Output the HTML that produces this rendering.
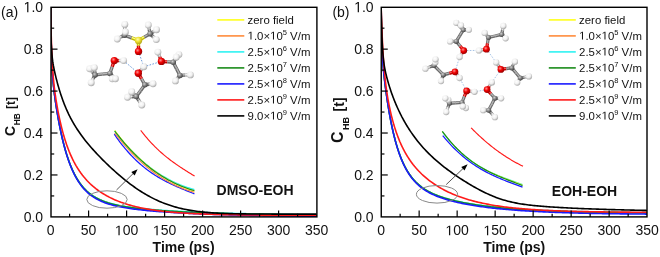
<!DOCTYPE html>
<html><head><meta charset="utf-8"><style>
html,body{margin:0;padding:0;background:#fff;}
body{width:660px;height:257px;overflow:hidden;}
svg{display:block;will-change:transform;}
text{font-family:"Liberation Sans",sans-serif;fill:#111;}
.tl{font-size:14px;}
.xl{font-size:14px;font-weight:bold;}
.yl{font-size:14px;font-weight:bold;}
.sub{font-size:9.5px;}
.lg{font-size:11.4px;}
.sup{font-size:7.5px;}
.tt{font-size:14px;font-weight:bold;}
.pl{font-size:14px;}
.o1{fill:transparent;}
</style></head><body>
<svg width="660" height="257" viewBox="0 0 660 257">
<defs>
<radialGradient id="gH" cx="0.4" cy="0.35" r="0.72"><stop offset="0" stop-color="#ffffff"/><stop offset="0.5" stop-color="#f0f0f0"/><stop offset="1" stop-color="#9a9a9a"/></radialGradient>
<radialGradient id="gC" cx="0.38" cy="0.35" r="0.7"><stop offset="0" stop-color="#d0d0d0"/><stop offset="0.5" stop-color="#808080"/><stop offset="1" stop-color="#3a3a3a"/></radialGradient>
<radialGradient id="gO" cx="0.38" cy="0.35" r="0.7"><stop offset="0" stop-color="#ff9090"/><stop offset="0.45" stop-color="#f00000"/><stop offset="1" stop-color="#900000"/></radialGradient>
<radialGradient id="gS" cx="0.4" cy="0.35" r="0.72"><stop offset="0" stop-color="#ffffb0"/><stop offset="0.45" stop-color="#eee030"/><stop offset="1" stop-color="#a89a10"/></radialGradient>
</defs>
<clipPath id="cpa"><rect x="51" y="7.3" width="265.9" height="209.6"/></clipPath>
<g clip-path="url(#cpa)">
<polyline points="50.6,7.2 50.68,12.94 50.76,18.22 50.83,23.1 50.91,27.59 50.99,31.75 51.07,35.59 51.15,39.14 51.22,42.44 51.3,45.5 51.38,48.34 51.46,50.99 51.54,53.46 51.61,55.76 51.69,57.91 51.77,59.93 51.85,61.82 51.93,63.6 52,65.28 52.08,66.86 52.16,68.35 52.24,69.77 52.31,71.11 52.39,72.39 52.47,73.61 52.55,74.77 52.63,75.88 52.7,76.94 52.78,77.96 52.86,78.95 52.94,79.89 53.02,80.81 53.09,81.69 53.17,82.55 53.25,83.38 53.33,84.19 53.41,84.97 53.48,85.74 53.56,86.48 53.64,87.21 53.99,90.28 54.33,93.13 54.68,95.8 55.03,98.35 55.37,100.79 55.72,103.15 56.06,105.43 56.41,107.65 56.76,109.81 57.1,111.92 57.45,113.98 57.8,115.98 58.14,117.94 58.49,119.86 58.83,121.73 59.18,123.56 59.53,125.35 59.87,127.09 60.22,128.8 60.57,130.47 60.91,132.1 61.26,133.7 61.61,135.25 61.95,136.78 62.3,138.27 62.64,139.73 62.99,141.15 63.34,142.54 63.68,143.9 64.03,145.23 64.38,146.54 64.72,147.81 65.07,149.05 65.42,150.27 65.76,151.46 66.11,152.62 66.45,153.76 66.8,154.87 67.15,155.96 67.49,157.03 67.84,158.07 68.19,159.08 68.53,160.08 68.88,161.05 69.22,162.01 69.57,162.94 69.92,163.85 70.26,164.74 70.61,165.61 70.96,166.46 71.3,167.3 71.65,168.12 72,168.91 72.34,169.7 72.69,170.46 73.03,171.21 73.38,171.94 73.73,172.66 74.07,173.36 74.42,174.04 74.77,174.72 75.11,175.37 75.46,176.02 75.81,176.65 76.15,177.26 76.5,177.86 76.84,178.45 77.19,179.03 77.54,179.6 77.88,180.15 78.23,180.69 78.58,181.22 78.92,181.74 79.27,182.25 79.61,182.75 79.96,183.24 80.31,183.72 80.65,184.18 81,184.64 82.48,186.5 83.96,188.2 85.45,189.76 86.93,191.19 88.41,192.5 89.89,193.71 91.37,194.82 92.85,195.84 94.34,196.79 95.82,197.66 97.3,198.47 98.78,199.22 100.26,199.91 101.74,200.56 103.23,201.16 104.71,201.72 106.19,202.24 107.67,202.73 109.15,203.18 110.64,203.61 112.12,204.01 113.6,204.39 115.08,204.75 116.56,205.09 118.04,205.41 119.53,205.71 121.01,205.99 122.49,206.26 123.97,206.52 125.45,206.77 126.93,207 128.42,207.23 129.9,207.44 131.38,207.65 132.86,207.85 134.34,208.04 135.83,208.22 137.31,208.4 138.79,208.57 140.27,208.73 141.75,208.89 143.23,209.04 144.72,209.19 146.2,209.33 147.68,209.47 149.16,209.61 150.64,209.74 152.12,209.87 153.61,209.99 155.09,210.11 156.57,210.23 158.05,210.34 159.53,210.45 161.02,210.56 162.5,210.67 163.98,210.77 165.46,210.87 166.94,210.97 168.42,211.06 169.91,211.16 171.39,211.25 172.87,211.34 174.35,211.42 175.83,211.51 177.31,211.59 178.8,211.67 180.28,211.75 181.76,211.83 183.24,211.91 184.72,211.98 186.21,212.06 187.69,212.13 189.17,212.2 190.65,212.27 192.13,212.33 193.61,212.4 195.1,212.46 196.58,212.53 198.06,212.59 199.54,212.65 201.02,212.71 202.5,212.77 203.99,212.82 205.47,212.88 206.95,212.93 208.43,212.99 209.91,213.04 211.39,213.09 212.88,213.14 214.36,213.19 215.84,213.24 217.32,213.29 218.8,213.33 220.29,213.38 221.77,213.42 223.25,213.47 224.73,213.51 226.21,213.55 227.69,213.59 229.18,213.63 230.66,213.67 232.14,213.71 233.62,213.75 235.1,213.79 236.58,213.82 238.07,213.86 239.55,213.9 241.03,213.93 242.51,213.96 243.99,214 245.48,214.03 246.96,214.06 248.44,214.09 249.92,214.12 251.4,214.15 252.88,214.18 254.37,214.21 255.85,214.24 257.33,214.27 258.81,214.29 260.29,214.32 261.77,214.35 263.26,214.37 264.74,214.4 266.22,214.42 267.7,214.45 269.18,214.47 270.67,214.49 272.15,214.51 273.63,214.54 275.11,214.56 276.59,214.58 278.07,214.6 279.56,214.62 281.04,214.64 282.52,214.66 284,214.68 285.48,214.7 286.96,214.72 288.45,214.74 289.93,214.75 291.41,214.77 292.89,214.79 294.37,214.81 295.86,214.82 297.34,214.84 298.82,214.85 300.3,214.87 301.78,214.88 303.26,214.9 304.75,214.91 306.23,214.93 307.71,214.94 309.19,214.96 310.67,214.97 312.15,214.98 313.64,215 315.12,215.01 316.6,215.02" fill="none" stroke="#ffff1a" stroke-width="1.4" stroke-linejoin="round"/>
<polyline points="50.6,7.2 50.68,12.94 50.76,18.22 50.83,23.1 50.91,27.59 50.99,31.75 51.07,35.59 51.15,39.14 51.22,42.44 51.3,45.5 51.38,48.34 51.46,50.99 51.54,53.46 51.61,55.76 51.69,57.91 51.77,59.93 51.85,61.82 51.93,63.6 52,65.28 52.08,66.86 52.16,68.35 52.24,69.77 52.31,71.11 52.39,72.39 52.47,73.61 52.55,74.77 52.63,75.88 52.7,76.94 52.78,77.96 52.86,78.95 52.94,79.89 53.02,80.81 53.09,81.69 53.17,82.55 53.25,83.38 53.33,84.19 53.41,84.97 53.48,85.74 53.56,86.48 53.64,87.21 53.99,90.28 54.33,93.13 54.68,95.8 55.03,98.35 55.37,100.79 55.72,103.15 56.06,105.43 56.41,107.65 56.76,109.81 57.1,111.92 57.45,113.98 57.8,115.98 58.14,117.94 58.49,119.86 58.83,121.73 59.18,123.56 59.53,125.35 59.87,127.09 60.22,128.8 60.57,130.47 60.91,132.1 61.26,133.7 61.61,135.25 61.95,136.78 62.3,138.27 62.64,139.73 62.99,141.15 63.34,142.54 63.68,143.9 64.03,145.23 64.38,146.54 64.72,147.81 65.07,149.05 65.42,150.27 65.76,151.46 66.11,152.62 66.45,153.76 66.8,154.87 67.15,155.96 67.49,157.03 67.84,158.07 68.19,159.08 68.53,160.08 68.88,161.05 69.22,162.01 69.57,162.94 69.92,163.85 70.26,164.74 70.61,165.61 70.96,166.46 71.3,167.3 71.65,168.12 72,168.91 72.34,169.7 72.69,170.46 73.03,171.21 73.38,171.94 73.73,172.66 74.07,173.36 74.42,174.04 74.77,174.72 75.11,175.37 75.46,176.02 75.81,176.65 76.15,177.26 76.5,177.86 76.84,178.45 77.19,179.03 77.54,179.6 77.88,180.15 78.23,180.69 78.58,181.22 78.92,181.74 79.27,182.25 79.61,182.75 79.96,183.24 80.31,183.72 80.65,184.18 81,184.64 82.48,186.5 83.96,188.2 85.45,189.76 86.93,191.19 88.41,192.5 89.89,193.71 91.37,194.82 92.85,195.84 94.34,196.79 95.82,197.66 97.3,198.47 98.78,199.22 100.26,199.91 101.74,200.56 103.23,201.16 104.71,201.72 106.19,202.24 107.67,202.73 109.15,203.18 110.64,203.61 112.12,204.01 113.6,204.39 115.08,204.75 116.56,205.09 118.04,205.41 119.53,205.71 121.01,205.99 122.49,206.26 123.97,206.52 125.45,206.77 126.93,207 128.42,207.23 129.9,207.44 131.38,207.65 132.86,207.85 134.34,208.04 135.83,208.22 137.31,208.4 138.79,208.57 140.27,208.73 141.75,208.89 143.23,209.04 144.72,209.19 146.2,209.33 147.68,209.47 149.16,209.61 150.64,209.74 152.12,209.87 153.61,209.99 155.09,210.11 156.57,210.23 158.05,210.34 159.53,210.45 161.02,210.56 162.5,210.67 163.98,210.77 165.46,210.87 166.94,210.97 168.42,211.06 169.91,211.16 171.39,211.25 172.87,211.34 174.35,211.42 175.83,211.51 177.31,211.59 178.8,211.67 180.28,211.75 181.76,211.83 183.24,211.91 184.72,211.98 186.21,212.06 187.69,212.13 189.17,212.2 190.65,212.27 192.13,212.33 193.61,212.4 195.1,212.46 196.58,212.53 198.06,212.59 199.54,212.65 201.02,212.71 202.5,212.77 203.99,212.82 205.47,212.88 206.95,212.93 208.43,212.99 209.91,213.04 211.39,213.09 212.88,213.14 214.36,213.19 215.84,213.24 217.32,213.29 218.8,213.33 220.29,213.38 221.77,213.42 223.25,213.47 224.73,213.51 226.21,213.55 227.69,213.59 229.18,213.63 230.66,213.67 232.14,213.71 233.62,213.75 235.1,213.79 236.58,213.82 238.07,213.86 239.55,213.9 241.03,213.93 242.51,213.96 243.99,214 245.48,214.03 246.96,214.06 248.44,214.09 249.92,214.12 251.4,214.15 252.88,214.18 254.37,214.21 255.85,214.24 257.33,214.27 258.81,214.29 260.29,214.32 261.77,214.35 263.26,214.37 264.74,214.4 266.22,214.42 267.7,214.45 269.18,214.47 270.67,214.49 272.15,214.51 273.63,214.54 275.11,214.56 276.59,214.58 278.07,214.6 279.56,214.62 281.04,214.64 282.52,214.66 284,214.68 285.48,214.7 286.96,214.72 288.45,214.74 289.93,214.75 291.41,214.77 292.89,214.79 294.37,214.81 295.86,214.82 297.34,214.84 298.82,214.85 300.3,214.87 301.78,214.88 303.26,214.9 304.75,214.91 306.23,214.93 307.71,214.94 309.19,214.96 310.67,214.97 312.15,214.98 313.64,215 315.12,215.01 316.6,215.02" fill="none" stroke="#ff8c3c" stroke-width="1.4" stroke-linejoin="round"/>
<polyline points="50.6,7.2 50.68,12.94 50.76,18.22 50.83,23.1 50.91,27.59 50.99,31.75 51.07,35.59 51.15,39.14 51.22,42.44 51.3,45.5 51.38,48.34 51.46,50.99 51.54,53.46 51.61,55.76 51.69,57.91 51.77,59.93 51.85,61.82 51.93,63.6 52,65.28 52.08,66.86 52.16,68.35 52.24,69.77 52.31,71.11 52.39,72.38 52.47,73.6 52.55,74.76 52.63,75.87 52.7,76.94 52.78,77.96 52.86,78.94 52.94,79.89 53.02,80.8 53.09,81.68 53.17,82.54 53.25,83.37 53.33,84.18 53.41,84.96 53.48,85.73 53.56,86.47 53.64,87.2 53.99,90.27 54.33,93.11 54.68,95.78 55.03,98.33 55.37,100.77 55.72,103.12 56.06,105.41 56.41,107.62 56.76,109.78 57.1,111.89 57.45,113.94 57.8,115.95 58.14,117.9 58.49,119.82 58.83,121.68 59.18,123.51 59.53,125.29 59.87,127.04 60.22,128.74 60.57,130.41 60.91,132.03 61.26,133.63 61.61,135.18 61.95,136.7 62.3,138.19 62.64,139.64 62.99,141.06 63.34,142.45 63.68,143.81 64.03,145.14 64.38,146.43 64.72,147.7 65.07,148.94 65.42,150.15 65.76,151.34 66.11,152.5 66.45,153.63 66.8,154.74 67.15,155.83 67.49,156.89 67.84,157.92 68.19,158.94 68.53,159.93 68.88,160.9 69.22,161.85 69.57,162.78 69.92,163.68 70.26,164.57 70.61,165.44 70.96,166.29 71.3,167.12 71.65,167.93 72,168.73 72.34,169.5 72.69,170.27 73.03,171.01 73.38,171.74 73.73,172.45 74.07,173.15 74.42,173.83 74.77,174.5 75.11,175.15 75.46,175.79 75.81,176.42 76.15,177.03 76.5,177.63 76.84,178.22 77.19,178.79 77.54,179.35 77.88,179.91 78.23,180.44 78.58,180.97 78.92,181.49 79.27,181.99 79.61,182.49 79.96,182.97 80.31,183.45 80.65,183.91 81,184.37 82.48,186.22 83.96,187.9 85.45,189.45 86.93,190.87 88.41,192.18 89.89,193.38 91.37,194.48 92.85,195.5 94.34,196.43 95.82,197.3 97.3,198.1 98.78,198.84 100.26,199.53 101.74,200.17 103.23,200.77 104.71,201.32 106.19,201.84 107.67,202.32 109.15,202.78 110.64,203.2 112.12,203.6 113.6,203.97 115.08,204.33 116.56,204.66 118.04,204.98 119.53,205.28 121.01,205.56 122.49,205.83 123.97,206.09 125.45,206.33 126.93,206.56 128.42,206.79 129.9,207 131.38,207.2 132.86,207.4 134.34,207.59 135.83,207.77 137.31,207.94 138.79,208.11 140.27,208.27 141.75,208.43 143.23,208.58 144.72,208.73 146.2,208.87 147.68,209.01 149.16,209.14 150.64,209.27 152.12,209.4 153.61,209.52 155.09,209.64 156.57,209.76 158.05,209.87 159.53,209.98 161.02,210.09 162.5,210.19 163.98,210.29 165.46,210.39 166.94,210.49 168.42,210.58 169.91,210.68 171.39,210.77 172.87,210.85 174.35,210.94 175.83,211.03 177.31,211.11 178.8,211.19 180.28,211.27 181.76,211.35 183.24,211.42 184.72,211.49 186.21,211.57 187.69,211.64 189.17,211.71 190.65,211.78 192.13,211.84 193.61,211.91 195.1,211.97 196.58,212.03 198.06,212.1 199.54,212.16 201.02,212.21 202.5,212.27 203.99,212.33 205.47,212.38 206.95,212.44 208.43,212.49 209.91,212.54 211.39,212.59 212.88,212.64 214.36,212.69 215.84,212.74 217.32,212.79 218.8,212.83 220.29,212.88 221.77,212.92 223.25,212.97 224.73,213.01 226.21,213.05 227.69,213.09 229.18,213.13 230.66,213.17 232.14,213.21 233.62,213.25 235.1,213.28 236.58,213.32 238.07,213.35 239.55,213.39 241.03,213.42 242.51,213.46 243.99,213.49 245.48,213.52 246.96,213.55 248.44,213.58 249.92,213.61 251.4,213.64 252.88,213.67 254.37,213.7 255.85,213.73 257.33,213.76 258.81,213.78 260.29,213.81 261.77,213.84 263.26,213.86 264.74,213.89 266.22,213.91 267.7,213.93 269.18,213.96 270.67,213.98 272.15,214 273.63,214.02 275.11,214.05 276.59,214.07 278.07,214.09 279.56,214.11 281.04,214.13 282.52,214.15 284,214.17 285.48,214.18 286.96,214.2 288.45,214.22 289.93,214.24 291.41,214.26 292.89,214.27 294.37,214.29 295.86,214.31 297.34,214.32 298.82,214.34 300.3,214.35 301.78,214.37 303.26,214.38 304.75,214.4 306.23,214.41 307.71,214.43 309.19,214.44 310.67,214.45 312.15,214.47 313.64,214.48 315.12,214.49 316.6,214.5" fill="none" stroke="#2ef2f2" stroke-width="1.3" stroke-linejoin="round"/>
<polyline points="50.6,7.2 50.68,12.94 50.76,18.22 50.83,23.1 50.91,27.59 50.99,31.75 51.07,35.59 51.15,39.14 51.22,42.44 51.3,45.5 51.38,48.34 51.46,50.99 51.54,53.46 51.61,55.76 51.69,57.91 51.77,59.93 51.85,61.82 51.93,63.6 52,65.28 52.08,66.86 52.16,68.35 52.24,69.77 52.31,71.11 52.39,72.39 52.47,73.61 52.55,74.77 52.63,75.88 52.7,76.94 52.78,77.96 52.86,78.95 52.94,79.89 53.02,80.81 53.09,81.69 53.17,82.55 53.25,83.38 53.33,84.19 53.41,84.97 53.48,85.74 53.56,86.48 53.64,87.21 53.99,90.28 54.33,93.13 54.68,95.8 55.03,98.35 55.37,100.79 55.72,103.15 56.06,105.43 56.41,107.65 56.76,109.81 57.1,111.92 57.45,113.98 57.8,115.98 58.14,117.94 58.49,119.86 58.83,121.73 59.18,123.56 59.53,125.35 59.87,127.09 60.22,128.8 60.57,130.47 60.91,132.1 61.26,133.7 61.61,135.25 61.95,136.78 62.3,138.27 62.64,139.73 62.99,141.15 63.34,142.54 63.68,143.9 64.03,145.23 64.38,146.54 64.72,147.81 65.07,149.05 65.42,150.27 65.76,151.46 66.11,152.62 66.45,153.76 66.8,154.87 67.15,155.96 67.49,157.03 67.84,158.07 68.19,159.08 68.53,160.08 68.88,161.05 69.22,162.01 69.57,162.94 69.92,163.85 70.26,164.74 70.61,165.61 70.96,166.46 71.3,167.3 71.65,168.12 72,168.91 72.34,169.7 72.69,170.46 73.03,171.21 73.38,171.94 73.73,172.66 74.07,173.36 74.42,174.04 74.77,174.72 75.11,175.37 75.46,176.02 75.81,176.65 76.15,177.26 76.5,177.86 76.84,178.45 77.19,179.03 77.54,179.6 77.88,180.15 78.23,180.69 78.58,181.22 78.92,181.74 79.27,182.25 79.61,182.75 79.96,183.24 80.31,183.72 80.65,184.18 81,184.64 82.48,186.5 83.96,188.2 85.45,189.76 86.93,191.19 88.41,192.5 89.89,193.71 91.37,194.82 92.85,195.84 94.34,196.79 95.82,197.66 97.3,198.47 98.78,199.22 100.26,199.91 101.74,200.56 103.23,201.16 104.71,201.72 106.19,202.24 107.67,202.73 109.15,203.18 110.64,203.61 112.12,204.01 113.6,204.39 115.08,204.75 116.56,205.09 118.04,205.41 119.53,205.71 121.01,205.99 122.49,206.26 123.97,206.52 125.45,206.77 126.93,207 128.42,207.23 129.9,207.44 131.38,207.65 132.86,207.85 134.34,208.04 135.83,208.22 137.31,208.4 138.79,208.57 140.27,208.73 141.75,208.89 143.23,209.04 144.72,209.19 146.2,209.33 147.68,209.47 149.16,209.61 150.64,209.74 152.12,209.87 153.61,209.99 155.09,210.11 156.57,210.23 158.05,210.34 159.53,210.45 161.02,210.56 162.5,210.67 163.98,210.77 165.46,210.87 166.94,210.97 168.42,211.06 169.91,211.16 171.39,211.25 172.87,211.34 174.35,211.42 175.83,211.51 177.31,211.59 178.8,211.67 180.28,211.75 181.76,211.83 183.24,211.91 184.72,211.98 186.21,212.06 187.69,212.13 189.17,212.2 190.65,212.27 192.13,212.33 193.61,212.4 195.1,212.46 196.58,212.53 198.06,212.59 199.54,212.65 201.02,212.71 202.5,212.77 203.99,212.82 205.47,212.88 206.95,212.93 208.43,212.99 209.91,213.04 211.39,213.09 212.88,213.14 214.36,213.19 215.84,213.24 217.32,213.29 218.8,213.33 220.29,213.38 221.77,213.42 223.25,213.47 224.73,213.51 226.21,213.55 227.69,213.59 229.18,213.63 230.66,213.67 232.14,213.71 233.62,213.75 235.1,213.79 236.58,213.82 238.07,213.86 239.55,213.9 241.03,213.93 242.51,213.96 243.99,214 245.48,214.03 246.96,214.06 248.44,214.09 249.92,214.12 251.4,214.15 252.88,214.18 254.37,214.21 255.85,214.24 257.33,214.27 258.81,214.29 260.29,214.32 261.77,214.35 263.26,214.37 264.74,214.4 266.22,214.42 267.7,214.45 269.18,214.47 270.67,214.49 272.15,214.51 273.63,214.54 275.11,214.56 276.59,214.58 278.07,214.6 279.56,214.62 281.04,214.64 282.52,214.66 284,214.68 285.48,214.7 286.96,214.72 288.45,214.74 289.93,214.75 291.41,214.77 292.89,214.79 294.37,214.81 295.86,214.82 297.34,214.84 298.82,214.85 300.3,214.87 301.78,214.88 303.26,214.9 304.75,214.91 306.23,214.93 307.71,214.94 309.19,214.96 310.67,214.97 312.15,214.98 313.64,215 315.12,215.01 316.6,215.02" fill="none" stroke="#1a8c1a" stroke-width="1.5" stroke-linejoin="round"/>
<polyline points="50.6,7.2 50.68,12.94 50.76,18.22 50.83,23.1 50.91,27.59 50.99,31.75 51.07,35.59 51.15,39.15 51.22,42.44 51.3,45.5 51.38,48.35 51.46,50.99 51.54,53.46 51.61,55.76 51.69,57.92 51.77,59.94 51.85,61.83 51.93,63.61 52,65.29 52.08,66.87 52.16,68.36 52.24,69.78 52.31,71.12 52.39,72.4 52.47,73.62 52.55,74.78 52.63,75.89 52.7,76.96 52.78,77.98 52.86,78.96 52.94,79.91 53.02,80.83 53.09,81.71 53.17,82.57 53.25,83.4 53.33,84.21 53.41,85 53.48,85.76 53.56,86.51 53.64,87.24 53.99,90.31 54.33,93.16 54.68,95.84 55.03,98.39 55.37,100.84 55.72,103.2 56.06,105.49 56.41,107.72 56.76,109.89 57.1,112 57.45,114.06 57.8,116.08 58.14,118.04 58.49,119.96 58.83,121.84 59.18,123.68 59.53,125.47 59.87,127.23 60.22,128.94 60.57,130.62 60.91,132.26 61.26,133.86 61.61,135.43 61.95,136.96 62.3,138.46 62.64,139.93 62.99,141.36 63.34,142.76 63.68,144.13 64.03,145.47 64.38,146.78 64.72,148.06 65.07,149.32 65.42,150.54 65.76,151.74 66.11,152.92 66.45,154.06 66.8,155.18 67.15,156.28 67.49,157.36 67.84,158.41 68.19,159.43 68.53,160.44 68.88,161.42 69.22,162.38 69.57,163.32 69.92,164.24 70.26,165.14 70.61,166.03 70.96,166.89 71.3,167.73 71.65,168.56 72,169.36 72.34,170.15 72.69,170.93 73.03,171.69 73.38,172.43 73.73,173.15 74.07,173.86 74.42,174.55 74.77,175.23 75.11,175.9 75.46,176.55 75.81,177.19 76.15,177.81 76.5,178.42 76.84,179.02 77.19,179.61 77.54,180.18 77.88,180.74 78.23,181.29 78.58,181.83 78.92,182.36 79.27,182.87 79.61,183.38 79.96,183.87 80.31,184.36 80.65,184.83 81,185.3 82.48,187.18 83.96,188.91 85.45,190.49 86.93,191.95 88.41,193.28 89.89,194.51 91.37,195.64 92.85,196.68 94.34,197.65 95.82,198.53 97.3,199.36 98.78,200.12 100.26,200.83 101.74,201.48 103.23,202.1 104.71,202.67 106.19,203.2 107.67,203.7 109.15,204.16 110.64,204.6 112.12,205.01 113.6,205.4 115.08,205.76 116.56,206.11 118.04,206.43 119.53,206.74 121.01,207.03 122.49,207.31 123.97,207.57 125.45,207.82 126.93,208.06 128.42,208.29 129.9,208.51 131.38,208.72 132.86,208.93 134.34,209.12 135.83,209.31 137.31,209.49 138.79,209.66 140.27,209.83 141.75,209.99 143.23,210.15 144.72,210.3 146.2,210.44 147.68,210.59 149.16,210.72 150.64,210.86 152.12,210.99 153.61,211.11 155.09,211.24 156.57,211.36 158.05,211.47 159.53,211.59 161.02,211.7 162.5,211.81 163.98,211.91 165.46,212.01 166.94,212.11 168.42,212.21 169.91,212.31 171.39,212.4 172.87,212.49 174.35,212.58 175.83,212.67 177.31,212.75 178.8,212.84 180.28,212.92 181.76,213 183.24,213.08 184.72,213.15 186.21,213.23 187.69,213.3 189.17,213.37 190.65,213.44 192.13,213.51 193.61,213.58 195.1,213.65 196.58,213.71 198.06,213.77 199.54,213.84 201.02,213.9 202.5,213.96 203.99,214.01 205.47,214.07 206.95,214.13 208.43,214.18 209.91,214.24 211.39,214.29 212.88,214.34 214.36,214.39 215.84,214.44 217.32,214.49 218.8,214.54 220.29,214.58 221.77,214.63 223.25,214.67 224.73,214.72 226.21,214.76 227.69,214.8 229.18,214.84 230.66,214.88 232.14,214.92 233.62,214.96 235.1,215 236.58,215.04 238.07,215.08 239.55,215.11 241.03,215.15 242.51,215.18 243.99,215.22 245.48,215.25 246.96,215.28 248.44,215.31 249.92,215.34 251.4,215.37 252.88,215.4 254.37,215.43 255.85,215.46 257.33,215.49 258.81,215.52 260.29,215.55 261.77,215.57 263.26,215.6 264.74,215.62 266.22,215.65 267.7,215.67 269.18,215.7 270.67,215.72 272.15,215.75 273.63,215.77 275.11,215.79 276.59,215.81 278.07,215.83 279.56,215.85 281.04,215.88 282.52,215.9 284,215.92 285.48,215.93 286.96,215.95 288.45,215.97 289.93,215.99 291.41,216.01 292.89,216.03 294.37,216.04 295.86,216.06 297.34,216.08 298.82,216.09 300.3,216.11 301.78,216.12 303.26,216.14 304.75,216.15 306.23,216.17 307.71,216.18 309.19,216.2 310.67,216.21 312.15,216.23 313.64,216.24 315.12,216.25 316.6,216.26" fill="none" stroke="#1a1aff" stroke-width="1.6" stroke-linejoin="round"/>
<polyline points="50.6,7.2 50.68,11.49 50.76,15.53 50.83,19.34 50.91,22.94 50.99,26.33 51.07,29.54 51.15,32.57 51.22,35.43 51.3,38.14 51.38,40.72 51.46,43.15 51.54,45.47 51.61,47.66 51.69,49.75 51.77,51.74 51.85,53.63 51.93,55.43 52,57.15 52.08,58.8 52.16,60.37 52.24,61.87 52.31,63.31 52.39,64.69 52.47,66.01 52.55,67.29 52.63,68.51 52.7,69.69 52.78,70.83 52.86,71.92 52.94,72.98 53.02,74 53.09,74.99 53.17,75.95 53.25,76.88 53.33,77.79 53.41,78.66 53.48,79.52 53.56,80.35 53.64,81.15 53.99,84.52 54.33,87.57 54.68,90.39 55.03,93.01 55.37,95.48 55.72,97.82 56.06,100.05 56.41,102.19 56.76,104.25 57.1,106.24 57.45,108.17 57.8,110.03 58.14,111.85 58.49,113.61 58.83,115.33 59.18,116.99 59.53,118.62 59.87,120.21 60.22,121.75 60.57,123.26 60.91,124.73 61.26,126.16 61.61,127.57 61.95,128.93 62.3,130.27 62.64,131.58 62.99,132.85 63.34,134.1 63.68,135.31 64.03,136.5 64.38,137.67 64.72,138.81 65.07,139.92 65.42,141.01 65.76,142.07 66.11,143.12 66.45,144.14 66.8,145.14 67.15,146.11 67.49,147.07 67.84,148.01 68.19,148.93 68.53,149.83 68.88,150.71 69.22,151.58 69.57,152.42 69.92,153.26 70.26,154.07 70.61,154.87 70.96,155.65 71.3,156.42 71.65,157.18 72,157.92 72.34,158.65 72.69,159.36 73.03,160.06 73.38,160.75 73.73,161.42 74.07,162.09 74.42,162.74 74.77,163.38 75.11,164.01 75.46,164.63 75.81,165.24 76.15,165.84 76.5,166.42 76.84,167 77.19,167.57 77.54,168.13 77.88,168.68 78.23,169.22 78.58,169.76 78.92,170.28 79.27,170.8 79.61,171.31 79.96,171.81 80.31,172.3 80.65,172.79 81,173.26 82.48,175.23 83.96,177.08 85.45,178.82 86.93,180.46 88.41,182.01 89.89,183.48 91.37,184.86 92.85,186.18 94.34,187.43 95.82,188.62 97.3,189.75 98.78,190.83 100.26,191.85 101.74,192.83 103.23,193.77 104.71,194.66 106.19,195.51 107.67,196.33 109.15,197.1 110.64,197.85 112.12,198.56 113.6,199.25 115.08,199.9 116.56,200.53 118.04,201.13 119.53,201.7 121.01,202.26 122.49,202.78 123.97,203.29 125.45,203.78 126.93,204.24 128.42,204.69 129.9,205.12 131.38,205.53 132.86,205.93 134.34,206.31 135.83,206.67 137.31,207.02 138.79,207.35 140.27,207.67 141.75,207.98 143.23,208.28 144.72,208.56 146.2,208.83 147.68,209.09 149.16,209.35 150.64,209.59 152.12,209.82 153.61,210.04 155.09,210.25 156.57,210.46 158.05,210.65 159.53,210.84 161.02,211.02 162.5,211.2 163.98,211.36 165.46,211.52 166.94,211.68 168.42,211.82 169.91,211.96 171.39,212.1 172.87,212.23 174.35,212.36 175.83,212.48 177.31,212.59 178.8,212.7 180.28,212.81 181.76,212.91 183.24,213.01 184.72,213.1 186.21,213.19 187.69,213.28 189.17,213.36 190.65,213.44 192.13,213.52 193.61,213.59 195.1,213.66 196.58,213.73 198.06,213.8 199.54,213.86 201.02,213.92 202.5,213.98 203.99,214.03 205.47,214.08 206.95,214.14 208.43,214.18 209.91,214.23 211.39,214.28 212.88,214.32 214.36,214.36 215.84,214.4 217.32,214.44 218.8,214.48 220.29,214.51 221.77,214.55 223.25,214.58 224.73,214.61 226.21,214.64 227.69,214.67 229.18,214.7 230.66,214.72 232.14,214.75 233.62,214.77 235.1,214.8 236.58,214.82 238.07,214.84 239.55,214.86 241.03,214.88 242.51,214.9 243.99,214.92 245.48,214.94 246.96,214.95 248.44,214.97 249.92,214.98 251.4,215 252.88,215.01 254.37,215.03 255.85,215.04 257.33,215.05 258.81,215.07 260.29,215.08 261.77,215.09 263.26,215.1 264.74,215.11 266.22,215.12 267.7,215.13 269.18,215.14 270.67,215.15 272.15,215.16 273.63,215.16 275.11,215.17 276.59,215.18 278.07,215.19 279.56,215.19 281.04,215.2 282.52,215.21 284,215.21 285.48,215.22 286.96,215.22 288.45,215.23 289.93,215.23 291.41,215.24 292.89,215.24 294.37,215.25 295.86,215.25 297.34,215.26 298.82,215.26 300.3,215.26 301.78,215.27 303.26,215.27 304.75,215.28 306.23,215.28 307.71,215.28 309.19,215.28 310.67,215.29 312.15,215.29 313.64,215.29 315.12,215.3 316.6,215.3" fill="none" stroke="#ff1a1a" stroke-width="1.6" stroke-linejoin="round"/>
<polyline points="50.6,7.2 50.68,23.41 50.76,29.98 50.83,33.58 50.91,36.17 50.99,38.34 51.07,40.28 51.15,42.06 51.22,43.7 51.3,45.21 51.38,46.63 51.46,47.94 51.54,49.17 51.61,50.31 51.69,51.39 51.77,52.4 51.85,53.35 51.93,54.24 52,55.09 52.08,55.89 52.16,56.66 52.24,57.38 52.31,58.08 52.39,58.74 52.47,59.37 52.55,59.98 52.63,60.57 52.7,61.14 52.78,61.69 52.86,62.22 52.94,62.73 53.02,63.23 53.09,63.72 53.17,64.19 53.25,64.65 53.33,65.1 53.41,65.55 53.48,65.98 53.56,66.41 53.64,66.83 53.99,68.61 54.33,70.29 54.68,71.9 55.03,73.45 55.37,74.95 55.72,76.4 56.06,77.82 56.41,79.21 56.76,80.56 57.1,81.88 57.45,83.18 57.8,84.44 58.14,85.68 58.49,86.9 58.83,88.09 59.18,89.26 59.53,90.4 59.87,91.52 60.22,92.62 60.57,93.7 60.91,94.76 61.26,95.8 61.61,96.82 61.95,97.82 62.3,98.8 62.64,99.76 62.99,100.71 63.34,101.64 63.68,102.55 64.03,103.45 64.38,104.33 64.72,105.2 65.07,106.05 65.42,106.89 65.76,107.72 66.11,108.53 66.45,109.33 66.8,110.11 67.15,110.89 67.49,111.65 67.84,112.4 68.19,113.14 68.53,113.87 68.88,114.58 69.22,115.29 69.57,115.99 69.92,116.67 70.26,117.35 70.61,118.02 70.96,118.68 71.3,119.33 71.65,119.97 72,120.6 72.34,121.23 72.69,121.84 73.03,122.45 73.38,123.06 73.73,123.65 74.07,124.24 74.42,124.82 74.77,125.39 75.11,125.96 75.46,126.52 75.81,127.08 76.15,127.63 76.5,128.17 76.84,128.71 77.19,129.24 77.54,129.77 77.88,130.29 78.23,130.81 78.58,131.32 78.92,131.83 79.27,132.33 79.61,132.83 79.96,133.32 80.31,133.81 80.65,134.29 81,134.78 82.48,136.79 83.96,138.74 85.45,140.63 86.93,142.46 88.41,144.25 89.89,146 91.37,147.71 92.85,149.38 94.34,151.02 95.82,152.64 97.3,154.22 98.78,155.78 100.26,157.31 101.74,158.82 103.23,160.31 104.71,161.78 106.19,163.23 107.67,164.66 109.15,166.07 110.64,167.46 112.12,168.84 113.6,170.19 115.08,171.52 116.56,172.84 118.04,174.13 119.53,175.41 121.01,176.67 122.49,177.9 123.97,179.12 125.45,180.31 126.93,181.48 128.42,182.64 129.9,183.77 131.38,184.87 132.86,185.96 134.34,187.02 135.83,188.06 137.31,189.07 138.79,190.06 140.27,191.03 141.75,191.97 143.23,192.89 144.72,193.79 146.2,194.66 147.68,195.5 149.16,196.32 150.64,197.12 152.12,197.89 153.61,198.64 155.09,199.37 156.57,200.07 158.05,200.74 159.53,201.4 161.02,202.03 162.5,202.63 163.98,203.22 165.46,203.78 166.94,204.32 168.42,204.84 169.91,205.34 171.39,205.81 172.87,206.27 174.35,206.71 175.83,207.13 177.31,207.53 178.8,207.91 180.28,208.27 181.76,208.62 183.24,208.95 184.72,209.26 186.21,209.56 187.69,209.84 189.17,210.11 190.65,210.36 192.13,210.6 193.61,210.83 195.1,211.05 196.58,211.25 198.06,211.44 199.54,211.62 201.02,211.79 202.5,211.95 203.99,212.1 205.47,212.25 206.95,212.38 208.43,212.5 209.91,212.62 211.39,212.73 212.88,212.83 214.36,212.93 215.84,213.02 217.32,213.1 218.8,213.18 220.29,213.25 221.77,213.32 223.25,213.38 224.73,213.44 226.21,213.49 227.69,213.54 229.18,213.59 230.66,213.63 232.14,213.67 233.62,213.71 235.1,213.74 236.58,213.77 238.07,213.8 239.55,213.83 241.03,213.85 242.51,213.87 243.99,213.89 245.48,213.91 246.96,213.93 248.44,213.95 249.92,213.96 251.4,213.98 252.88,213.99 254.37,214 255.85,214.01 257.33,214.02 258.81,214.03 260.29,214.04 261.77,214.04 263.26,214.05 264.74,214.05 266.22,214.06 267.7,214.06 269.18,214.07 270.67,214.07 272.15,214.08 273.63,214.08 275.11,214.08 276.59,214.09 278.07,214.09 279.56,214.09 281.04,214.09 282.52,214.09 284,214.1 285.48,214.1 286.96,214.1 288.45,214.1 289.93,214.1 291.41,214.1 292.89,214.1 294.37,214.1 295.86,214.11 297.34,214.11 298.82,214.11 300.3,214.11 301.78,214.11 303.26,214.11 304.75,214.11 306.23,214.11 307.71,214.11 309.19,214.11 310.67,214.11 312.15,214.11 313.64,214.11 315.12,214.11 316.6,214.11" fill="none" stroke="#000" stroke-width="1.6" stroke-linejoin="round"/>
</g>
<clipPath id="cpb"><rect x="381.25" y="7.3" width="265.75" height="209.6"/></clipPath>
<g clip-path="url(#cpb)">
<polyline points="381.15,7.2 381.23,12.65 381.31,17.58 381.38,22.04 381.46,26.1 381.54,29.79 381.62,33.15 381.7,36.22 381.77,39.03 381.85,41.61 381.93,43.99 382.01,46.19 382.09,48.22 382.16,50.1 382.24,51.86 382.32,53.5 382.4,55.04 382.48,56.48 382.55,57.84 382.63,59.13 382.71,60.35 382.79,61.52 382.86,62.63 382.94,63.69 383.02,64.71 383.1,65.69 383.18,66.64 383.25,67.55 383.33,68.44 383.41,69.3 383.49,70.14 383.57,70.96 383.64,71.76 383.72,72.54 383.8,73.31 383.88,74.06 383.96,74.8 384.03,75.52 384.11,76.24 384.19,76.94 384.54,79.96 384.88,82.84 385.23,85.6 385.58,88.28 385.92,90.87 386.27,93.38 386.61,95.83 386.96,98.21 387.31,100.53 387.65,102.8 388,105 388.35,107.15 388.69,109.24 389.04,111.28 389.38,113.27 389.73,115.21 390.08,117.1 390.42,118.94 390.77,120.74 391.12,122.49 391.46,124.2 391.81,125.87 392.16,127.49 392.5,129.08 392.85,130.63 393.19,132.14 393.54,133.61 393.89,135.04 394.23,136.44 394.58,137.81 394.93,139.15 395.27,140.45 395.62,141.72 395.97,142.96 396.31,144.17 396.66,145.35 397,146.5 397.35,147.62 397.7,148.72 398.04,149.8 398.39,150.84 398.74,151.87 399.08,152.86 399.43,153.84 399.77,154.79 400.12,155.72 400.47,156.63 400.81,157.52 401.16,158.39 401.51,159.23 401.85,160.06 402.2,160.87 402.55,161.66 402.89,162.44 403.24,163.19 403.58,163.93 403.93,164.65 404.28,165.36 404.62,166.05 404.97,166.73 405.32,167.39 405.66,168.03 406.01,168.67 406.36,169.28 406.7,169.89 407.05,170.48 407.39,171.06 407.74,171.63 408.09,172.18 408.43,172.73 408.78,173.26 409.13,173.78 409.47,174.29 409.82,174.79 410.16,175.28 410.51,175.76 410.86,176.23 411.2,176.69 411.55,177.14 413.03,178.96 414.51,180.64 416,182.19 417.48,183.62 418.96,184.93 420.44,186.16 421.92,187.29 423.4,188.35 424.89,189.33 426.37,190.25 427.85,191.11 429.33,191.92 430.81,192.68 432.29,193.4 433.78,194.08 435.26,194.72 436.74,195.32 438.22,195.9 439.7,196.45 441.19,196.97 442.67,197.47 444.15,197.95 445.63,198.4 447.11,198.84 448.59,199.26 450.08,199.66 451.56,200.05 453.04,200.42 454.52,200.78 456,201.13 457.48,201.46 458.97,201.79 460.45,202.1 461.93,202.4 463.41,202.7 464.89,202.98 466.38,203.25 467.86,203.52 469.34,203.78 470.82,204.03 472.3,204.27 473.78,204.51 475.27,204.74 476.75,204.96 478.23,205.18 479.71,205.39 481.19,205.59 482.67,205.79 484.16,205.99 485.64,206.18 487.12,206.36 488.6,206.54 490.08,206.71 491.57,206.88 493.05,207.05 494.53,207.21 496.01,207.36 497.49,207.52 498.97,207.66 500.46,207.81 501.94,207.95 503.42,208.09 504.9,208.22 506.38,208.35 507.86,208.48 509.35,208.6 510.83,208.72 512.31,208.84 513.79,208.95 515.27,209.06 516.76,209.17 518.24,209.28 519.72,209.38 521.2,209.48 522.68,209.58 524.16,209.67 525.65,209.76 527.13,209.86 528.61,209.94 530.09,210.03 531.57,210.11 533.05,210.19 534.54,210.27 536.02,210.35 537.5,210.43 538.98,210.5 540.46,210.57 541.94,210.64 543.43,210.71 544.91,210.78 546.39,210.84 547.87,210.91 549.35,210.97 550.84,211.03 552.32,211.09 553.8,211.14 555.28,211.2 556.76,211.25 558.24,211.3 559.73,211.36 561.21,211.41 562.69,211.46 564.17,211.5 565.65,211.55 567.13,211.59 568.62,211.64 570.1,211.68 571.58,211.72 573.06,211.76 574.54,211.8 576.03,211.84 577.51,211.88 578.99,211.92 580.47,211.95 581.95,211.99 583.43,212.02 584.92,212.06 586.4,212.09 587.88,212.12 589.36,212.15 590.84,212.18 592.32,212.21 593.81,212.24 595.29,212.27 596.77,212.29 598.25,212.32 599.73,212.35 601.22,212.37 602.7,212.4 604.18,212.42 605.66,212.44 607.14,212.47 608.62,212.49 610.11,212.51 611.59,212.53 613.07,212.55 614.55,212.57 616.03,212.59 617.51,212.61 619,212.63 620.48,212.65 621.96,212.66 623.44,212.68 624.92,212.7 626.41,212.71 627.89,212.73 629.37,212.75 630.85,212.76 632.33,212.77 633.81,212.79 635.3,212.8 636.78,212.82 638.26,212.83 639.74,212.84 641.22,212.86 642.7,212.87 644.19,212.88 645.67,212.89 647.15,212.9" fill="none" stroke="#ffff1a" stroke-width="1.4" stroke-linejoin="round"/>
<polyline points="381.15,7.2 381.23,12.65 381.31,17.58 381.38,22.04 381.46,26.1 381.54,29.79 381.62,33.15 381.7,36.22 381.77,39.03 381.85,41.61 381.93,43.99 382.01,46.19 382.09,48.22 382.16,50.1 382.24,51.86 382.32,53.5 382.4,55.04 382.48,56.48 382.55,57.84 382.63,59.13 382.71,60.35 382.79,61.52 382.86,62.63 382.94,63.69 383.02,64.71 383.1,65.69 383.18,66.64 383.25,67.55 383.33,68.44 383.41,69.3 383.49,70.14 383.57,70.96 383.64,71.76 383.72,72.54 383.8,73.31 383.88,74.06 383.96,74.8 384.03,75.52 384.11,76.24 384.19,76.94 384.54,79.96 384.88,82.84 385.23,85.6 385.58,88.28 385.92,90.87 386.27,93.38 386.61,95.83 386.96,98.21 387.31,100.53 387.65,102.8 388,105 388.35,107.15 388.69,109.24 389.04,111.28 389.38,113.27 389.73,115.21 390.08,117.1 390.42,118.94 390.77,120.74 391.12,122.49 391.46,124.2 391.81,125.87 392.16,127.49 392.5,129.08 392.85,130.63 393.19,132.14 393.54,133.61 393.89,135.04 394.23,136.44 394.58,137.81 394.93,139.15 395.27,140.45 395.62,141.72 395.97,142.96 396.31,144.17 396.66,145.35 397,146.5 397.35,147.62 397.7,148.72 398.04,149.8 398.39,150.84 398.74,151.87 399.08,152.86 399.43,153.84 399.77,154.79 400.12,155.72 400.47,156.63 400.81,157.52 401.16,158.39 401.51,159.23 401.85,160.06 402.2,160.87 402.55,161.66 402.89,162.44 403.24,163.19 403.58,163.93 403.93,164.65 404.28,165.36 404.62,166.05 404.97,166.73 405.32,167.39 405.66,168.03 406.01,168.67 406.36,169.28 406.7,169.89 407.05,170.48 407.39,171.06 407.74,171.63 408.09,172.18 408.43,172.73 408.78,173.26 409.13,173.78 409.47,174.29 409.82,174.79 410.16,175.28 410.51,175.76 410.86,176.23 411.2,176.69 411.55,177.14 413.03,178.96 414.51,180.64 416,182.19 417.48,183.62 418.96,184.93 420.44,186.16 421.92,187.29 423.4,188.35 424.89,189.33 426.37,190.25 427.85,191.11 429.33,191.92 430.81,192.68 432.29,193.4 433.78,194.08 435.26,194.72 436.74,195.32 438.22,195.9 439.7,196.45 441.19,196.97 442.67,197.47 444.15,197.95 445.63,198.4 447.11,198.84 448.59,199.26 450.08,199.66 451.56,200.05 453.04,200.42 454.52,200.78 456,201.13 457.48,201.46 458.97,201.79 460.45,202.1 461.93,202.4 463.41,202.7 464.89,202.98 466.38,203.25 467.86,203.52 469.34,203.78 470.82,204.03 472.3,204.27 473.78,204.51 475.27,204.74 476.75,204.96 478.23,205.18 479.71,205.39 481.19,205.59 482.67,205.79 484.16,205.99 485.64,206.18 487.12,206.36 488.6,206.54 490.08,206.71 491.57,206.88 493.05,207.05 494.53,207.21 496.01,207.36 497.49,207.52 498.97,207.66 500.46,207.81 501.94,207.95 503.42,208.09 504.9,208.22 506.38,208.35 507.86,208.48 509.35,208.6 510.83,208.72 512.31,208.84 513.79,208.95 515.27,209.06 516.76,209.17 518.24,209.28 519.72,209.38 521.2,209.48 522.68,209.58 524.16,209.67 525.65,209.76 527.13,209.86 528.61,209.94 530.09,210.03 531.57,210.11 533.05,210.19 534.54,210.27 536.02,210.35 537.5,210.43 538.98,210.5 540.46,210.57 541.94,210.64 543.43,210.71 544.91,210.78 546.39,210.84 547.87,210.91 549.35,210.97 550.84,211.03 552.32,211.09 553.8,211.14 555.28,211.2 556.76,211.25 558.24,211.3 559.73,211.36 561.21,211.41 562.69,211.46 564.17,211.5 565.65,211.55 567.13,211.59 568.62,211.64 570.1,211.68 571.58,211.72 573.06,211.76 574.54,211.8 576.03,211.84 577.51,211.88 578.99,211.92 580.47,211.95 581.95,211.99 583.43,212.02 584.92,212.06 586.4,212.09 587.88,212.12 589.36,212.15 590.84,212.18 592.32,212.21 593.81,212.24 595.29,212.27 596.77,212.29 598.25,212.32 599.73,212.35 601.22,212.37 602.7,212.4 604.18,212.42 605.66,212.44 607.14,212.47 608.62,212.49 610.11,212.51 611.59,212.53 613.07,212.55 614.55,212.57 616.03,212.59 617.51,212.61 619,212.63 620.48,212.65 621.96,212.66 623.44,212.68 624.92,212.7 626.41,212.71 627.89,212.73 629.37,212.75 630.85,212.76 632.33,212.77 633.81,212.79 635.3,212.8 636.78,212.82 638.26,212.83 639.74,212.84 641.22,212.86 642.7,212.87 644.19,212.88 645.67,212.89 647.15,212.9" fill="none" stroke="#ff8c3c" stroke-width="1.4" stroke-linejoin="round"/>
<polyline points="381.15,7.2 381.23,12.65 381.31,17.58 381.38,22.04 381.46,26.1 381.54,29.79 381.62,33.15 381.7,36.22 381.77,39.03 381.85,41.61 381.93,43.99 382.01,46.19 382.09,48.22 382.16,50.1 382.24,51.86 382.32,53.5 382.4,55.04 382.48,56.48 382.55,57.84 382.63,59.13 382.71,60.35 382.79,61.52 382.86,62.62 382.94,63.69 383.02,64.71 383.1,65.69 383.18,66.63 383.25,67.55 383.33,68.44 383.41,69.3 383.49,70.14 383.57,70.95 383.64,71.75 383.72,72.53 383.8,73.3 383.88,74.05 383.96,74.79 384.03,75.52 384.11,76.23 384.19,76.93 384.54,79.95 384.88,82.83 385.23,85.59 385.58,88.27 385.92,90.85 386.27,93.37 386.61,95.81 386.96,98.2 387.31,100.51 387.65,102.77 388,104.97 388.35,107.12 388.69,109.21 389.04,111.25 389.38,113.23 389.73,115.17 390.08,117.06 390.42,118.9 390.77,120.69 391.12,122.44 391.46,124.15 391.81,125.81 392.16,127.44 392.5,129.02 392.85,130.56 393.19,132.07 393.54,133.54 393.89,134.97 394.23,136.37 394.58,137.73 394.93,139.06 395.27,140.36 395.62,141.63 395.97,142.86 396.31,144.07 396.66,145.25 397,146.4 397.35,147.52 397.7,148.61 398.04,149.68 398.39,150.73 398.74,151.75 399.08,152.74 399.43,153.71 399.77,154.66 400.12,155.59 400.47,156.49 400.81,157.38 401.16,158.24 401.51,159.09 401.85,159.91 402.2,160.72 402.55,161.51 402.89,162.28 403.24,163.03 403.58,163.77 403.93,164.49 404.28,165.19 404.62,165.88 404.97,166.55 405.32,167.21 405.66,167.85 406.01,168.48 406.36,169.09 406.7,169.7 407.05,170.29 407.39,170.86 407.74,171.43 408.09,171.98 408.43,172.52 408.78,173.05 409.13,173.57 409.47,174.07 409.82,174.57 410.16,175.06 410.51,175.53 410.86,176 411.2,176.46 411.55,176.91 413.03,178.72 414.51,180.39 416,181.93 417.48,183.35 418.96,184.66 420.44,185.87 421.92,187 423.4,188.05 424.89,189.03 426.37,189.94 427.85,190.8 429.33,191.6 430.81,192.36 432.29,193.07 433.78,193.74 435.26,194.38 436.74,194.98 438.22,195.55 439.7,196.1 441.19,196.61 442.67,197.11 444.15,197.58 445.63,198.03 447.11,198.47 448.59,198.88 450.08,199.28 451.56,199.67 453.04,200.04 454.52,200.4 456,200.74 457.48,201.07 458.97,201.39 460.45,201.7 461.93,202 463.41,202.29 464.89,202.57 466.38,202.85 467.86,203.11 469.34,203.37 470.82,203.61 472.3,203.86 473.78,204.09 475.27,204.32 476.75,204.54 478.23,204.75 479.71,204.96 481.19,205.17 482.67,205.36 484.16,205.56 485.64,205.74 487.12,205.92 488.6,206.1 490.08,206.27 491.57,206.44 493.05,206.6 494.53,206.76 496.01,206.92 497.49,207.07 498.97,207.22 500.46,207.36 501.94,207.5 503.42,207.63 504.9,207.77 506.38,207.9 507.86,208.02 509.35,208.14 510.83,208.26 512.31,208.38 513.79,208.49 515.27,208.6 516.76,208.71 518.24,208.81 519.72,208.92 521.2,209.01 522.68,209.11 524.16,209.21 525.65,209.3 527.13,209.39 528.61,209.47 530.09,209.56 531.57,209.64 533.05,209.72 534.54,209.8 536.02,209.88 537.5,209.95 538.98,210.03 540.46,210.1 541.94,210.17 543.43,210.24 544.91,210.3 546.39,210.37 547.87,210.43 549.35,210.49 550.84,210.55 552.32,210.61 553.8,210.66 555.28,210.72 556.76,210.77 558.24,210.82 559.73,210.87 561.21,210.92 562.69,210.97 564.17,211.02 565.65,211.07 567.13,211.11 568.62,211.15 570.1,211.2 571.58,211.24 573.06,211.28 574.54,211.32 576.03,211.36 577.51,211.39 578.99,211.43 580.47,211.47 581.95,211.5 583.43,211.54 584.92,211.57 586.4,211.6 587.88,211.63 589.36,211.66 590.84,211.69 592.32,211.72 593.81,211.75 595.29,211.78 596.77,211.8 598.25,211.83 599.73,211.86 601.22,211.88 602.7,211.9 604.18,211.93 605.66,211.95 607.14,211.97 608.62,212 610.11,212.02 611.59,212.04 613.07,212.06 614.55,212.08 616.03,212.1 617.51,212.12 619,212.13 620.48,212.15 621.96,212.17 623.44,212.19 624.92,212.2 626.41,212.22 627.89,212.23 629.37,212.25 630.85,212.26 632.33,212.28 633.81,212.29 635.3,212.31 636.78,212.32 638.26,212.33 639.74,212.35 641.22,212.36 642.7,212.37 644.19,212.38 645.67,212.39 647.15,212.41" fill="none" stroke="#2ef2f2" stroke-width="1.3" stroke-linejoin="round"/>
<polyline points="381.15,7.2 381.23,12.65 381.31,17.58 381.38,22.04 381.46,26.1 381.54,29.79 381.62,33.15 381.7,36.22 381.77,39.03 381.85,41.61 381.93,43.99 382.01,46.19 382.09,48.22 382.16,50.1 382.24,51.86 382.32,53.5 382.4,55.04 382.48,56.48 382.55,57.84 382.63,59.13 382.71,60.35 382.79,61.52 382.86,62.63 382.94,63.69 383.02,64.71 383.1,65.69 383.18,66.64 383.25,67.55 383.33,68.44 383.41,69.3 383.49,70.14 383.57,70.96 383.64,71.76 383.72,72.54 383.8,73.31 383.88,74.06 383.96,74.8 384.03,75.52 384.11,76.24 384.19,76.94 384.54,79.96 384.88,82.84 385.23,85.6 385.58,88.28 385.92,90.87 386.27,93.38 386.61,95.83 386.96,98.21 387.31,100.53 387.65,102.8 388,105 388.35,107.15 388.69,109.24 389.04,111.28 389.38,113.27 389.73,115.21 390.08,117.1 390.42,118.94 390.77,120.74 391.12,122.49 391.46,124.2 391.81,125.87 392.16,127.49 392.5,129.08 392.85,130.63 393.19,132.14 393.54,133.61 393.89,135.04 394.23,136.44 394.58,137.81 394.93,139.15 395.27,140.45 395.62,141.72 395.97,142.96 396.31,144.17 396.66,145.35 397,146.5 397.35,147.62 397.7,148.72 398.04,149.8 398.39,150.84 398.74,151.87 399.08,152.86 399.43,153.84 399.77,154.79 400.12,155.72 400.47,156.63 400.81,157.52 401.16,158.39 401.51,159.23 401.85,160.06 402.2,160.87 402.55,161.66 402.89,162.44 403.24,163.19 403.58,163.93 403.93,164.65 404.28,165.36 404.62,166.05 404.97,166.73 405.32,167.39 405.66,168.03 406.01,168.67 406.36,169.28 406.7,169.89 407.05,170.48 407.39,171.06 407.74,171.63 408.09,172.18 408.43,172.73 408.78,173.26 409.13,173.78 409.47,174.29 409.82,174.79 410.16,175.28 410.51,175.76 410.86,176.23 411.2,176.69 411.55,177.14 413.03,178.96 414.51,180.64 416,182.19 417.48,183.62 418.96,184.93 420.44,186.16 421.92,187.29 423.4,188.35 424.89,189.33 426.37,190.25 427.85,191.11 429.33,191.92 430.81,192.68 432.29,193.4 433.78,194.08 435.26,194.72 436.74,195.32 438.22,195.9 439.7,196.45 441.19,196.97 442.67,197.47 444.15,197.95 445.63,198.4 447.11,198.84 448.59,199.26 450.08,199.66 451.56,200.05 453.04,200.42 454.52,200.78 456,201.13 457.48,201.46 458.97,201.79 460.45,202.1 461.93,202.4 463.41,202.7 464.89,202.98 466.38,203.25 467.86,203.52 469.34,203.78 470.82,204.03 472.3,204.27 473.78,204.51 475.27,204.74 476.75,204.96 478.23,205.18 479.71,205.39 481.19,205.59 482.67,205.79 484.16,205.99 485.64,206.18 487.12,206.36 488.6,206.54 490.08,206.71 491.57,206.88 493.05,207.05 494.53,207.21 496.01,207.36 497.49,207.52 498.97,207.66 500.46,207.81 501.94,207.95 503.42,208.09 504.9,208.22 506.38,208.35 507.86,208.48 509.35,208.6 510.83,208.72 512.31,208.84 513.79,208.95 515.27,209.06 516.76,209.17 518.24,209.28 519.72,209.38 521.2,209.48 522.68,209.58 524.16,209.67 525.65,209.76 527.13,209.86 528.61,209.94 530.09,210.03 531.57,210.11 533.05,210.19 534.54,210.27 536.02,210.35 537.5,210.43 538.98,210.5 540.46,210.57 541.94,210.64 543.43,210.71 544.91,210.78 546.39,210.84 547.87,210.91 549.35,210.97 550.84,211.03 552.32,211.09 553.8,211.14 555.28,211.2 556.76,211.25 558.24,211.3 559.73,211.36 561.21,211.41 562.69,211.46 564.17,211.5 565.65,211.55 567.13,211.59 568.62,211.64 570.1,211.68 571.58,211.72 573.06,211.76 574.54,211.8 576.03,211.84 577.51,211.88 578.99,211.92 580.47,211.95 581.95,211.99 583.43,212.02 584.92,212.06 586.4,212.09 587.88,212.12 589.36,212.15 590.84,212.18 592.32,212.21 593.81,212.24 595.29,212.27 596.77,212.29 598.25,212.32 599.73,212.35 601.22,212.37 602.7,212.4 604.18,212.42 605.66,212.44 607.14,212.47 608.62,212.49 610.11,212.51 611.59,212.53 613.07,212.55 614.55,212.57 616.03,212.59 617.51,212.61 619,212.63 620.48,212.65 621.96,212.66 623.44,212.68 624.92,212.7 626.41,212.71 627.89,212.73 629.37,212.75 630.85,212.76 632.33,212.77 633.81,212.79 635.3,212.8 636.78,212.82 638.26,212.83 639.74,212.84 641.22,212.86 642.7,212.87 644.19,212.88 645.67,212.89 647.15,212.9" fill="none" stroke="#1a8c1a" stroke-width="1.5" stroke-linejoin="round"/>
<polyline points="381.15,7.2 381.23,12.65 381.31,17.58 381.38,22.04 381.46,26.1 381.54,29.79 381.62,33.15 381.7,36.22 381.77,39.03 381.85,41.62 381.93,43.99 382.01,46.19 382.09,48.22 382.16,50.11 382.24,51.86 382.32,53.5 382.4,55.04 382.48,56.49 382.55,57.85 382.63,59.14 382.71,60.36 382.79,61.52 382.86,62.63 382.94,63.7 383.02,64.72 383.1,65.7 383.18,66.65 383.25,67.56 383.33,68.45 383.41,69.31 383.49,70.15 383.57,70.97 383.64,71.77 383.72,72.55 383.8,73.32 383.88,74.07 383.96,74.81 384.03,75.54 384.11,76.25 384.19,76.96 384.54,79.98 384.88,82.86 385.23,85.63 385.58,88.31 385.92,90.9 386.27,93.42 386.61,95.87 386.96,98.26 387.31,100.58 387.65,102.85 388,105.06 388.35,107.21 388.69,109.31 389.04,111.36 389.38,113.35 389.73,115.3 390.08,117.19 390.42,119.04 390.77,120.85 391.12,122.61 391.46,124.32 391.81,126 392.16,127.63 392.5,129.22 392.85,130.78 393.19,132.3 393.54,133.77 393.89,135.22 394.23,136.63 394.58,138 394.93,139.34 395.27,140.65 395.62,141.93 395.97,143.18 396.31,144.4 396.66,145.59 397,146.75 397.35,147.88 397.7,148.99 398.04,150.07 398.39,151.12 398.74,152.15 399.08,153.16 399.43,154.14 399.77,155.1 400.12,156.04 400.47,156.96 400.81,157.85 401.16,158.73 401.51,159.59 401.85,160.42 402.2,161.24 402.55,162.04 402.89,162.82 403.24,163.58 403.58,164.33 403.93,165.06 404.28,165.77 404.62,166.47 404.97,167.15 405.32,167.82 405.66,168.47 406.01,169.11 406.36,169.74 406.7,170.35 407.05,170.95 407.39,171.54 407.74,172.11 408.09,172.67 408.43,173.22 408.78,173.76 409.13,174.29 409.47,174.8 409.82,175.31 410.16,175.8 410.51,176.29 410.86,176.76 411.2,177.23 411.55,177.69 413.03,179.54 414.51,181.24 416,182.81 417.48,184.25 418.96,185.59 420.44,186.83 421.92,187.99 423.4,189.06 424.89,190.06 426.37,190.99 427.85,191.87 429.33,192.69 430.81,193.47 432.29,194.19 433.78,194.88 435.26,195.54 436.74,196.15 438.22,196.74 439.7,197.3 441.19,197.83 442.67,198.34 444.15,198.82 445.63,199.29 447.11,199.73 448.59,200.16 450.08,200.57 451.56,200.97 453.04,201.35 454.52,201.71 456,202.07 457.48,202.41 458.97,202.74 460.45,203.06 461.93,203.37 463.41,203.67 464.89,203.95 466.38,204.23 467.86,204.51 469.34,204.77 470.82,205.03 472.3,205.27 473.78,205.52 475.27,205.75 476.75,205.98 478.23,206.2 479.71,206.41 481.19,206.62 482.67,206.83 484.16,207.02 485.64,207.22 487.12,207.4 488.6,207.59 490.08,207.76 491.57,207.94 493.05,208.11 494.53,208.27 496.01,208.43 497.49,208.59 498.97,208.74 500.46,208.88 501.94,209.03 503.42,209.17 504.9,209.3 506.38,209.44 507.86,209.57 509.35,209.69 510.83,209.82 512.31,209.94 513.79,210.05 515.27,210.17 516.76,210.28 518.24,210.38 519.72,210.49 521.2,210.59 522.68,210.69 524.16,210.79 525.65,210.88 527.13,210.98 528.61,211.07 530.09,211.16 531.57,211.24 533.05,211.32 534.54,211.41 536.02,211.48 537.5,211.56 538.98,211.64 540.46,211.71 541.94,211.78 543.43,211.85 544.91,211.92 546.39,211.99 547.87,212.05 549.35,212.11 550.84,212.18 552.32,212.24 553.8,212.29 555.28,212.35 556.76,212.41 558.24,212.46 559.73,212.51 561.21,212.56 562.69,212.61 564.17,212.66 565.65,212.71 567.13,212.76 568.62,212.8 570.1,212.85 571.58,212.89 573.06,212.93 574.54,212.97 576.03,213.01 577.51,213.05 578.99,213.09 580.47,213.12 581.95,213.16 583.43,213.19 584.92,213.23 586.4,213.26 587.88,213.29 589.36,213.33 590.84,213.36 592.32,213.39 593.81,213.42 595.29,213.44 596.77,213.47 598.25,213.5 599.73,213.53 601.22,213.55 602.7,213.58 604.18,213.6 605.66,213.62 607.14,213.65 608.62,213.67 610.11,213.69 611.59,213.71 613.07,213.74 614.55,213.76 616.03,213.78 617.51,213.79 619,213.81 620.48,213.83 621.96,213.85 623.44,213.87 624.92,213.88 626.41,213.9 627.89,213.92 629.37,213.93 630.85,213.95 632.33,213.96 633.81,213.98 635.3,213.99 636.78,214.01 638.26,214.02 639.74,214.03 641.22,214.05 642.7,214.06 644.19,214.07 645.67,214.08 647.15,214.09" fill="none" stroke="#1a1aff" stroke-width="1.6" stroke-linejoin="round"/>
<polyline points="381.15,7.2 381.23,9.83 381.31,12.37 381.38,14.83 381.46,17.21 381.54,19.52 381.62,21.76 381.7,23.92 381.77,26.02 381.85,28.06 381.93,30.03 382.01,31.95 382.09,33.81 382.16,35.61 382.24,37.36 382.32,39.07 382.4,40.72 382.48,42.32 382.55,43.89 382.63,45.4 382.71,46.88 382.79,48.32 382.86,49.72 382.94,51.08 383.02,52.4 383.1,53.7 383.18,54.95 383.25,56.18 383.33,57.38 383.41,58.55 383.49,59.69 383.57,60.8 383.64,61.88 383.72,62.94 383.8,63.98 383.88,64.99 383.96,65.98 384.03,66.95 384.11,67.9 384.19,68.83 384.54,72.72 384.88,76.28 385.23,79.56 385.58,82.6 385.92,85.43 386.27,88.08 386.61,90.57 386.96,92.92 387.31,95.15 387.65,97.27 388,99.29 388.35,101.23 388.69,103.09 389.04,104.88 389.38,106.6 389.73,108.26 390.08,109.87 390.42,111.43 390.77,112.94 391.12,114.41 391.46,115.83 391.81,117.22 392.16,118.57 392.5,119.88 392.85,121.16 393.19,122.41 393.54,123.63 393.89,124.81 394.23,125.97 394.58,127.11 394.93,128.21 395.27,129.3 395.62,130.35 395.97,131.39 396.31,132.4 396.66,133.39 397,134.36 397.35,135.31 397.7,136.24 398.04,137.15 398.39,138.05 398.74,138.92 399.08,139.78 399.43,140.62 399.77,141.45 400.12,142.25 400.47,143.05 400.81,143.83 401.16,144.59 401.51,145.34 401.85,146.08 402.2,146.8 402.55,147.51 402.89,148.21 403.24,148.9 403.58,149.57 403.93,150.24 404.28,150.89 404.62,151.53 404.97,152.16 405.32,152.78 405.66,153.39 406.01,153.99 406.36,154.58 406.7,155.16 407.05,155.74 407.39,156.3 407.74,156.85 408.09,157.4 408.43,157.94 408.78,158.47 409.13,158.99 409.47,159.51 409.82,160.02 410.16,160.52 410.51,161.01 410.86,161.5 411.2,161.98 411.55,162.45 413.03,164.41 414.51,166.26 416,168.02 417.48,169.68 418.96,171.27 420.44,172.78 421.92,174.22 423.4,175.59 424.89,176.91 426.37,178.17 427.85,179.38 429.33,180.54 430.81,181.65 432.29,182.72 433.78,183.75 435.26,184.74 436.74,185.69 438.22,186.61 439.7,187.49 441.19,188.34 442.67,189.16 444.15,189.95 445.63,190.72 447.11,191.45 448.59,192.17 450.08,192.85 451.56,193.51 453.04,194.15 454.52,194.77 456,195.37 457.48,195.94 458.97,196.5 460.45,197.04 461.93,197.56 463.41,198.06 464.89,198.54 466.38,199.01 467.86,199.46 469.34,199.9 470.82,200.32 472.3,200.73 473.78,201.12 475.27,201.5 476.75,201.87 478.23,202.23 479.71,202.57 481.19,202.9 482.67,203.22 484.16,203.54 485.64,203.83 487.12,204.12 488.6,204.4 490.08,204.68 491.57,204.94 493.05,205.19 494.53,205.43 496.01,205.67 497.49,205.9 498.97,206.12 500.46,206.33 501.94,206.54 503.42,206.74 504.9,206.93 506.38,207.12 507.86,207.3 509.35,207.47 510.83,207.64 512.31,207.8 513.79,207.96 515.27,208.11 516.76,208.25 518.24,208.4 519.72,208.53 521.2,208.67 522.68,208.79 524.16,208.92 525.65,209.04 527.13,209.15 528.61,209.26 530.09,209.37 531.57,209.48 533.05,209.58 534.54,209.67 536.02,209.77 537.5,209.86 538.98,209.95 540.46,210.03 541.94,210.11 543.43,210.19 544.91,210.27 546.39,210.34 547.87,210.42 549.35,210.48 550.84,210.55 552.32,210.62 553.8,210.68 555.28,210.74 556.76,210.8 558.24,210.85 559.73,210.91 561.21,210.96 562.69,211.01 564.17,211.06 565.65,211.11 567.13,211.16 568.62,211.2 570.1,211.24 571.58,211.28 573.06,211.32 574.54,211.36 576.03,211.4 577.51,211.44 578.99,211.47 580.47,211.51 581.95,211.54 583.43,211.57 584.92,211.6 586.4,211.63 587.88,211.66 589.36,211.69 590.84,211.71 592.32,211.74 593.81,211.76 595.29,211.79 596.77,211.81 598.25,211.83 599.73,211.86 601.22,211.88 602.7,211.9 604.18,211.92 605.66,211.94 607.14,211.95 608.62,211.97 610.11,211.99 611.59,212.01 613.07,212.02 614.55,212.04 616.03,212.05 617.51,212.07 619,212.08 620.48,212.09 621.96,212.11 623.44,212.12 624.92,212.13 626.41,212.14 627.89,212.15 629.37,212.17 630.85,212.18 632.33,212.19 633.81,212.2 635.3,212.21 636.78,212.22 638.26,212.22 639.74,212.23 641.22,212.24 642.7,212.25 644.19,212.26 645.67,212.26 647.15,212.27" fill="none" stroke="#ff1a1a" stroke-width="1.6" stroke-linejoin="round"/>
<polyline points="381.15,7.2 381.23,11.06 381.31,14.65 381.38,18 381.46,21.12 381.54,24.04 381.62,26.76 381.7,29.3 381.77,31.68 381.85,33.9 381.93,35.99 382.01,37.94 382.09,39.77 382.16,41.49 382.24,43.11 382.32,44.63 382.4,46.06 382.48,47.41 382.55,48.68 382.63,49.89 382.71,51.03 382.79,52.11 382.86,53.13 382.94,54.11 383.02,55.03 383.1,55.91 383.18,56.75 383.25,57.55 383.33,58.32 383.41,59.05 383.49,59.75 383.57,60.43 383.64,61.07 383.72,61.7 383.8,62.3 383.88,62.88 383.96,63.44 384.03,63.98 384.11,64.51 384.19,65.02 384.54,67.12 384.88,69.01 385.23,70.74 385.58,72.34 385.92,73.86 386.27,75.3 386.61,76.68 386.96,78.01 387.31,79.3 387.65,80.55 388,81.77 388.35,82.96 388.69,84.13 389.04,85.27 389.38,86.38 389.73,87.48 390.08,88.55 390.42,89.61 390.77,90.65 391.12,91.66 391.46,92.66 391.81,93.65 392.16,94.61 392.5,95.57 392.85,96.5 393.19,97.42 393.54,98.33 393.89,99.23 394.23,100.11 394.58,100.97 394.93,101.83 395.27,102.67 395.62,103.5 395.97,104.32 396.31,105.13 396.66,105.93 397,106.72 397.35,107.5 397.7,108.26 398.04,109.02 398.39,109.77 398.74,110.51 399.08,111.24 399.43,111.96 399.77,112.67 400.12,113.37 400.47,114.07 400.81,114.76 401.16,115.44 401.51,116.11 401.85,116.78 402.2,117.43 402.55,118.08 402.89,118.73 403.24,119.37 403.58,120 403.93,120.62 404.28,121.24 404.62,121.85 404.97,122.45 405.32,123.05 405.66,123.64 406.01,124.23 406.36,124.81 406.7,125.39 407.05,125.96 407.39,126.52 407.74,127.08 408.09,127.64 408.43,128.18 408.78,128.73 409.13,129.27 409.47,129.8 409.82,130.33 410.16,130.85 410.51,131.37 410.86,131.89 411.2,132.4 411.55,132.9 413.03,135.02 414.51,137.06 416,139.03 417.48,140.93 418.96,142.76 420.44,144.54 421.92,146.26 423.4,147.93 424.89,149.54 426.37,151.11 427.85,152.63 429.33,154.11 430.81,155.55 432.29,156.95 433.78,158.32 435.26,159.64 436.74,160.94 438.22,162.21 439.7,163.45 441.19,164.66 442.67,165.84 444.15,167.01 445.63,168.14 447.11,169.26 448.59,170.36 450.08,171.44 451.56,172.5 453.04,173.55 454.52,174.58 456,175.59 457.48,176.59 458.97,177.58 460.45,178.55 461.93,179.51 463.41,180.45 464.89,181.38 466.38,182.3 467.86,183.21 469.34,184.1 470.82,184.98 472.3,185.85 473.78,186.7 475.27,187.53 476.75,188.35 478.23,189.16 479.71,189.95 481.19,190.72 482.67,191.48 484.16,192.21 485.64,192.93 487.12,193.63 488.6,194.31 490.08,194.96 491.57,195.6 493.05,196.21 494.53,196.81 496.01,197.38 497.49,197.93 498.97,198.46 500.46,198.96 501.94,199.45 503.42,199.91 504.9,200.35 506.38,200.76 507.86,201.16 509.35,201.54 510.83,201.9 512.31,202.24 513.79,202.56 515.27,202.86 516.76,203.15 518.24,203.42 519.72,203.68 521.2,203.92 522.68,204.15 524.16,204.37 525.65,204.57 527.13,204.77 528.61,204.95 530.09,205.13 531.57,205.3 533.05,205.46 534.54,205.61 536.02,205.75 537.5,205.89 538.98,206.03 540.46,206.16 541.94,206.28 543.43,206.4 544.91,206.52 546.39,206.63 547.87,206.74 549.35,206.84 550.84,206.94 552.32,207.04 553.8,207.14 555.28,207.23 556.76,207.32 558.24,207.41 559.73,207.5 561.21,207.58 562.69,207.67 564.17,207.75 565.65,207.82 567.13,207.9 568.62,207.97 570.1,208.05 571.58,208.12 573.06,208.19 574.54,208.26 576.03,208.32 577.51,208.39 578.99,208.45 580.47,208.52 581.95,208.58 583.43,208.64 584.92,208.69 586.4,208.75 587.88,208.81 589.36,208.86 590.84,208.92 592.32,208.97 593.81,209.02 595.29,209.07 596.77,209.12 598.25,209.17 599.73,209.22 601.22,209.27 602.7,209.32 604.18,209.36 605.66,209.41 607.14,209.45 608.62,209.5 610.11,209.54 611.59,209.58 613.07,209.62 614.55,209.66 616.03,209.7 617.51,209.74 619,209.78 620.48,209.82 621.96,209.86 623.44,209.9 624.92,209.93 626.41,209.97 627.89,210.01 629.37,210.04 630.85,210.08 632.33,210.11 633.81,210.15 635.3,210.18 636.78,210.21 638.26,210.25 639.74,210.28 641.22,210.31 642.7,210.34 644.19,210.38 645.67,210.41 647.15,210.44" fill="none" stroke="#000" stroke-width="1.6" stroke-linejoin="round"/>
</g>
<polyline points="114.3,134.16 115.66,136.14 117.02,138.06 118.37,139.93 119.73,141.76 121.09,143.54 122.45,145.27 123.8,146.95 125.16,148.59 126.52,150.19 127.88,151.74 129.23,153.26 130.59,154.73 131.95,156.16 133.31,157.55 134.66,158.9 136.02,160.21 137.38,161.49 138.74,162.73 140.09,163.94 141.45,165.11 142.81,166.25 144.17,167.36 145.53,168.43 146.88,169.48 148.24,170.49 149.6,171.48 150.96,172.44 152.31,173.37 153.67,174.28 155.03,175.16 156.39,176.01 157.74,176.85 159.1,177.66 160.46,178.45 161.82,179.22 163.17,179.97 164.53,180.7 165.89,181.41 167.25,182.11 168.61,182.79 169.96,183.45 171.32,184.1 172.68,184.74 174.04,185.36 175.39,185.97 176.75,186.58 178.11,187.17 179.47,187.75 180.82,188.33 182.18,188.9 183.54,189.46 184.9,190.01 186.25,190.57 187.61,191.12 188.97,191.66 190.33,192.21 191.68,192.75 193.04,193.29 194.4,193.84" fill="none" stroke="#1a1aff" stroke-width="1.25" stroke-linecap="butt"/>
<polyline points="114.7,132.88 116.05,134.65 117.4,136.39 118.75,138.1 120.1,139.78 121.45,141.43 122.81,143.04 124.16,144.63 125.51,146.19 126.86,147.71 128.21,149.21 129.56,150.68 130.91,152.12 132.26,153.53 133.61,154.91 134.96,156.27 136.31,157.6 137.66,158.9 139.02,160.17 140.37,161.41 141.72,162.63 143.07,163.83 144.42,164.99 145.77,166.13 147.12,167.25 148.47,168.34 149.82,169.4 151.17,170.44 152.52,171.46 153.87,172.45 155.23,173.42 156.58,174.36 157.93,175.28 159.28,176.18 160.63,177.05 161.98,177.9 163.33,178.73 164.68,179.54 166.03,180.33 167.38,181.09 168.73,181.83 170.08,182.56 171.44,183.26 172.79,183.94 174.14,184.6 175.49,185.24 176.84,185.86 178.19,186.46 179.54,187.05 180.89,187.61 182.24,188.16 183.59,188.69 184.94,189.2 186.29,189.69 187.65,190.16 189,190.62 190.35,191.06 191.7,191.49 193.05,191.89 194.4,192.29" fill="none" stroke="#ff8c3c" stroke-width="1.2" stroke-linecap="butt"/>
<polyline points="114.7,130.98 116.05,132.74 117.4,134.46 118.75,136.16 120.1,137.82 121.45,139.46 122.81,141.06 124.16,142.63 125.51,144.18 126.86,145.69 128.21,147.18 129.56,148.63 130.91,150.06 132.26,151.45 133.61,152.82 134.96,154.17 136.31,155.48 137.66,156.77 139.02,158.02 140.37,159.26 141.72,160.46 143.07,161.64 144.42,162.79 145.77,163.92 147.12,165.02 148.47,166.1 149.82,167.15 151.17,168.18 152.52,169.18 153.87,170.16 155.23,171.11 156.58,172.04 157.93,172.95 159.28,173.83 160.63,174.69 161.98,175.53 163.33,176.34 164.68,177.14 166.03,177.91 167.38,178.66 168.73,179.39 170.08,180.1 171.44,180.79 172.79,181.46 174.14,182.1 175.49,182.73 176.84,183.34 178.19,183.93 179.54,184.5 180.89,185.05 182.24,185.58 183.59,186.09 184.94,186.59 186.29,187.07 187.65,187.53 189,187.98 190.35,188.4 191.7,188.81 193.05,189.21 194.4,189.59" fill="none" stroke="#2ef2f2" stroke-width="1.3" stroke-linecap="butt"/>
<polyline points="114.7,130.38 116.05,132.17 117.4,133.93 118.75,135.66 120.1,137.35 121.45,139.02 122.81,140.65 124.16,142.26 125.51,143.84 126.86,145.38 128.21,146.9 129.56,148.38 130.91,149.84 132.26,151.27 133.61,152.67 134.96,154.05 136.31,155.39 137.66,156.71 139.02,158 140.37,159.27 141.72,160.51 143.07,161.72 144.42,162.9 145.77,164.06 147.12,165.19 148.47,166.3 149.82,167.39 151.17,168.45 152.52,169.48 153.87,170.49 155.23,171.48 156.58,172.44 157.93,173.38 159.28,174.29 160.63,175.19 161.98,176.06 163.33,176.9 164.68,177.73 166.03,178.53 167.38,179.32 168.73,180.08 170.08,180.82 171.44,181.54 172.79,182.24 174.14,182.92 175.49,183.58 176.84,184.22 178.19,184.84 179.54,185.44 180.89,186.03 182.24,186.59 183.59,187.14 184.94,187.67 186.29,188.18 187.65,188.67 189,189.15 190.35,189.61 191.7,190.05 193.05,190.48 194.4,190.89" fill="none" stroke="#ffff1a" stroke-width="1.1" stroke-linecap="butt"/>
<polyline points="114.7,130.98 116.05,132.76 117.4,134.5 118.75,136.22 120.1,137.9 121.45,139.55 122.81,141.17 124.16,142.76 125.51,144.33 126.86,145.86 128.21,147.36 129.56,148.84 130.91,150.28 132.26,151.7 133.61,153.08 134.96,154.44 136.31,155.78 137.66,157.08 139.02,158.36 140.37,159.61 141.72,160.83 143.07,162.03 144.42,163.2 145.77,164.35 147.12,165.47 148.47,166.56 149.82,167.63 151.17,168.68 152.52,169.7 153.87,170.7 155.23,171.67 156.58,172.62 157.93,173.54 159.28,174.45 160.63,175.32 161.98,176.18 163.33,177.02 164.68,177.83 166.03,178.62 167.38,179.39 168.73,180.14 170.08,180.86 171.44,181.57 172.79,182.26 174.14,182.92 175.49,183.57 176.84,184.2 178.19,184.8 179.54,185.39 180.89,185.96 182.24,186.51 183.59,187.05 184.94,187.56 186.29,188.06 187.65,188.54 189,189 190.35,189.45 191.7,189.88 193.05,190.29 194.4,190.69" fill="none" stroke="#1a8c1a" stroke-width="1.15" stroke-linecap="butt"/>
<polyline points="140.7,130.29 141.61,131.49 142.53,132.66 143.44,133.82 144.35,134.95 145.27,136.06 146.18,137.16 147.09,138.23 148.01,139.28 148.92,140.32 149.84,141.33 150.75,142.33 151.66,143.31 152.58,144.27 153.49,145.22 154.4,146.15 155.32,147.06 156.23,147.96 157.14,148.84 158.06,149.7 158.97,150.55 159.88,151.39 160.8,152.21 161.71,153.02 162.63,153.81 163.54,154.59 164.45,155.36 165.37,156.12 166.28,156.86 167.19,157.6 168.11,158.32 169.02,159.03 169.93,159.73 170.85,160.42 171.76,161.1 172.67,161.77 173.59,162.44 174.5,163.09 175.42,163.74 176.33,164.38 177.24,165.01 178.16,165.63 179.07,166.25 179.98,166.86 180.9,167.47 181.81,168.07 182.72,168.66 183.64,169.25 184.55,169.83 185.46,170.42 186.38,170.99 187.29,171.57 188.21,172.14 189.12,172.71 190.03,173.27 190.95,173.84 191.86,174.4 192.77,174.96 193.69,175.53 194.6,176.09" fill="none" stroke="#ff1a1a" stroke-width="1.15" stroke-linecap="butt"/>
<polyline points="442.7,135.55 444.05,137.21 445.41,138.83 446.76,140.4 448.11,141.94 449.46,143.43 450.82,144.89 452.17,146.31 453.52,147.7 454.87,149.05 456.23,150.36 457.58,151.64 458.93,152.89 460.28,154.1 461.64,155.28 462.99,156.43 464.34,157.55 465.69,158.64 467.05,159.7 468.4,160.73 469.75,161.73 471.1,162.71 472.46,163.66 473.81,164.58 475.16,165.48 476.51,166.36 477.87,167.21 479.22,168.04 480.57,168.85 481.92,169.64 483.28,170.41 484.63,171.15 485.98,171.88 487.33,172.59 488.69,173.29 490.04,173.96 491.39,174.62 492.74,175.27 494.1,175.9 495.45,176.52 496.8,177.13 498.15,177.72 499.51,178.3 500.86,178.87 502.21,179.44 503.56,179.99 504.92,180.53 506.27,181.07 507.62,181.6 508.97,182.12 510.33,182.64 511.68,183.15 513.03,183.66 514.38,184.17 515.74,184.67 517.09,185.18 518.44,185.68 519.79,186.18 521.15,186.68 522.5,187.18" fill="none" stroke="#1a1aff" stroke-width="1.25" stroke-linecap="butt"/>
<polyline points="442.3,131.72 443.66,133.53 445.02,135.3 446.38,137.01 447.74,138.67 449.1,140.29 450.46,141.86 451.82,143.39 453.17,144.87 454.53,146.31 455.89,147.71 457.25,149.07 458.61,150.39 459.97,151.67 461.33,152.91 462.69,154.11 464.05,155.28 465.41,156.41 466.77,157.51 468.13,158.57 469.49,159.6 470.85,160.6 472.21,161.57 473.56,162.51 474.92,163.42 476.28,164.31 477.64,165.16 479,165.99 480.36,166.8 481.72,167.58 483.08,168.34 484.44,169.08 485.8,169.79 487.16,170.49 488.52,171.17 489.88,171.83 491.24,172.47 492.59,173.09 493.95,173.7 495.31,174.3 496.67,174.88 498.03,175.45 499.39,176.01 500.75,176.56 502.11,177.1 503.47,177.63 504.83,178.15 506.19,178.66 507.55,179.17 508.91,179.68 510.27,180.18 511.63,180.67 512.98,181.17 514.34,181.67 515.7,182.16 517.06,182.66 518.42,183.15 519.78,183.65 521.14,184.16 522.5,184.67" fill="none" stroke="#2ef2f2" stroke-width="1.2" stroke-linecap="butt"/>
<polyline points="442.3,131.62 443.66,133.44 445.02,135.2 446.38,136.92 447.74,138.59 449.1,140.21 450.46,141.78 451.82,143.31 453.17,144.8 454.53,146.25 455.89,147.65 457.25,149.01 458.61,150.33 459.97,151.61 461.33,152.86 462.69,154.06 464.05,155.23 465.41,156.37 466.77,157.47 468.13,158.53 469.49,159.57 470.85,160.57 472.21,161.55 473.56,162.49 474.92,163.4 476.28,164.29 477.64,165.15 479,165.98 480.36,166.79 481.72,167.58 483.08,168.34 484.44,169.08 485.8,169.8 487.16,170.5 488.52,171.18 489.88,171.84 491.24,172.49 492.59,173.12 493.95,173.73 495.31,174.33 496.67,174.92 498.03,175.49 499.39,176.05 500.75,176.6 502.11,177.14 503.47,177.68 504.83,178.2 506.19,178.72 507.55,179.23 508.91,179.74 510.27,180.25 511.63,180.75 512.98,181.25 514.34,181.74 515.7,182.24 517.06,182.74 518.42,183.24 519.78,183.75 521.14,184.25 522.5,184.77" fill="none" stroke="#ffff1a" stroke-width="1.0" stroke-linecap="butt"/>
<polyline points="442.3,131.32 443.66,133.16 445.02,134.94 446.38,136.67 447.74,138.36 449.1,140 450.46,141.6 451.82,143.14 453.17,144.65 454.53,146.11 455.89,147.53 457.25,148.91 458.61,150.25 459.97,151.55 461.33,152.82 462.69,154.04 464.05,155.23 465.41,156.38 466.77,157.5 468.13,158.59 469.49,159.64 470.85,160.66 472.21,161.66 473.56,162.62 474.92,163.55 476.28,164.46 477.64,165.33 479,166.19 480.36,167.02 481.72,167.82 483.08,168.6 484.44,169.36 485.8,170.1 487.16,170.82 488.52,171.52 489.88,172.2 491.24,172.86 492.59,173.51 493.95,174.14 495.31,174.76 496.67,175.36 498.03,175.95 499.39,176.54 500.75,177.1 502.11,177.67 503.47,178.22 504.83,178.76 506.19,179.3 507.55,179.83 508.91,180.36 510.27,180.88 511.63,181.4 512.98,181.92 514.34,182.43 515.7,182.95 517.06,183.47 518.42,183.99 519.78,184.51 521.14,185.03 522.5,185.57" fill="none" stroke="#1a8c1a" stroke-width="1.2" stroke-linecap="butt"/>
<polyline points="471.1,127.81 471.98,128.71 472.86,129.6 473.74,130.48 474.62,131.35 475.5,132.21 476.38,133.06 477.26,133.9 478.14,134.74 479.02,135.56 479.9,136.38 480.78,137.19 481.66,137.98 482.54,138.77 483.42,139.55 484.29,140.33 485.17,141.09 486.05,141.84 486.93,142.59 487.81,143.33 488.69,144.06 489.57,144.78 490.45,145.49 491.33,146.19 492.21,146.89 493.09,147.58 493.97,148.26 494.85,148.93 495.73,149.59 496.61,150.24 497.49,150.89 498.37,151.53 499.25,152.16 500.13,152.78 501.01,153.39 501.89,154 502.77,154.6 503.65,155.19 504.53,155.77 505.41,156.35 506.29,156.91 507.17,157.47 508.05,158.02 508.93,158.57 509.81,159.1 510.68,159.63 511.56,160.15 512.44,160.67 513.32,161.17 514.2,161.67 515.08,162.16 515.96,162.65 516.84,163.12 517.72,163.59 518.6,164.05 519.48,164.51 520.36,164.96 521.24,165.4 522.12,165.83 523,166.26" fill="none" stroke="#ff1a1a" stroke-width="1.15" stroke-linecap="butt"/>
<ellipse cx="107" cy="199.5" rx="20.2" ry="8.7" fill="none" stroke="#888" stroke-width="1"/>
<ellipse cx="437" cy="194.3" rx="20.6" ry="8.8" fill="none" stroke="#888" stroke-width="1"/>
<line x1="116.5" y1="190" x2="133.68" y2="173.06" stroke="#444" stroke-width="0.9"/><polygon points="137.6,169.2 134.66,175.47 131.29,172.05" fill="#000"/>
<line x1="446.2" y1="184.6" x2="463.62" y2="167.99" stroke="#444" stroke-width="0.9"/><polygon points="467.6,164.2 464.55,170.42 461.24,166.95" fill="#000"/>
<rect x="51" y="7.3" width="265.9" height="209.6" fill="none" stroke="#000" stroke-width="1.4"/>
<line x1="69.6" y1="216.9" x2="69.6" y2="213.7" stroke="#000" stroke-width="1.2"/>
<line x1="88.6" y1="216.9" x2="88.6" y2="210.4" stroke="#000" stroke-width="1.2"/>
<line x1="107.6" y1="216.9" x2="107.6" y2="213.7" stroke="#000" stroke-width="1.2"/>
<line x1="126.6" y1="216.9" x2="126.6" y2="210.4" stroke="#000" stroke-width="1.2"/>
<line x1="145.6" y1="216.9" x2="145.6" y2="213.7" stroke="#000" stroke-width="1.2"/>
<line x1="164.6" y1="216.9" x2="164.6" y2="210.4" stroke="#000" stroke-width="1.2"/>
<line x1="183.6" y1="216.9" x2="183.6" y2="213.7" stroke="#000" stroke-width="1.2"/>
<line x1="202.6" y1="216.9" x2="202.6" y2="210.4" stroke="#000" stroke-width="1.2"/>
<line x1="221.6" y1="216.9" x2="221.6" y2="213.7" stroke="#000" stroke-width="1.2"/>
<line x1="240.6" y1="216.9" x2="240.6" y2="210.4" stroke="#000" stroke-width="1.2"/>
<line x1="259.6" y1="216.9" x2="259.6" y2="213.7" stroke="#000" stroke-width="1.2"/>
<line x1="278.6" y1="216.9" x2="278.6" y2="210.4" stroke="#000" stroke-width="1.2"/>
<line x1="297.6" y1="216.9" x2="297.6" y2="213.7" stroke="#000" stroke-width="1.2"/>
<line x1="51" y1="195.93" x2="54.2" y2="195.93" stroke="#000" stroke-width="1.2"/>
<line x1="51" y1="174.96" x2="57.5" y2="174.96" stroke="#000" stroke-width="1.2"/>
<line x1="51" y1="153.99" x2="54.2" y2="153.99" stroke="#000" stroke-width="1.2"/>
<line x1="51" y1="133.02" x2="57.5" y2="133.02" stroke="#000" stroke-width="1.2"/>
<line x1="51" y1="112.05" x2="54.2" y2="112.05" stroke="#000" stroke-width="1.2"/>
<line x1="51" y1="91.08" x2="57.5" y2="91.08" stroke="#000" stroke-width="1.2"/>
<line x1="51" y1="70.11" x2="54.2" y2="70.11" stroke="#000" stroke-width="1.2"/>
<line x1="51" y1="49.14" x2="57.5" y2="49.14" stroke="#000" stroke-width="1.2"/>
<line x1="51" y1="28.17" x2="54.2" y2="28.17" stroke="#000" stroke-width="1.2"/>
<text x="50.6" y="235.3" text-anchor="middle" class="tl">0</text>
<text x="88.6" y="235.3" text-anchor="middle" class="tl">50</text>
<text x="126.6" y="235.3" text-anchor="middle" class="tl"><tspan class="o1" id="o1_0">1</tspan>00</text><path transform="translate(114.91,235.3) scale(0.006836,-0.006836)" d="M515 0L515 1237L197 1010L197 1180L530 1409L696 1409L696 0Z" fill="#111"/>
<text x="164.6" y="235.3" text-anchor="middle" class="tl"><tspan class="o1" id="o1_1">1</tspan>50</text><path transform="translate(152.91,235.3) scale(0.006836,-0.006836)" d="M515 0L515 1237L197 1010L197 1180L530 1409L696 1409L696 0Z" fill="#111"/>
<text x="202.6" y="235.3" text-anchor="middle" class="tl">200</text>
<text x="240.6" y="235.3" text-anchor="middle" class="tl">250</text>
<text x="278.6" y="235.3" text-anchor="middle" class="tl">300</text>
<text x="316.6" y="235.3" text-anchor="middle" class="tl">350</text>
<g transform="matrix(1,0,0,1.07,0,-15.53)"><text x="43.1" y="221.9" text-anchor="end" class="tl">0.0</text></g>
<g transform="matrix(1,0,0,1.07,0,-12.6)"><text x="43.1" y="179.96" text-anchor="end" class="tl">0.2</text></g>
<g transform="matrix(1,0,0,1.07,0,-9.66)"><text x="43.1" y="138.02" text-anchor="end" class="tl">0.4</text></g>
<g transform="matrix(1,0,0,1.07,0,-6.73)"><text x="43.1" y="96.08" text-anchor="end" class="tl">0.6</text></g>
<g transform="matrix(1,0,0,1.07,0,-3.79)"><text x="43.1" y="54.14" text-anchor="end" class="tl">0.8</text></g>
<g transform="matrix(1,0,0,1.07,0,-0.85)"><text x="43.1" y="12.2" text-anchor="end" class="tl"><tspan class="o1" id="o1_2">1</tspan>.0</text><path transform="translate(23.64,12.2) scale(0.006836,-0.006836)" d="M515 0L515 1237L197 1010L197 1180L530 1409L696 1409L696 0Z" fill="#111"/></g>
<text x="183.6" y="251.6" text-anchor="middle" class="xl">Time (ps)</text>
<rect x="381.25" y="7.3" width="265.75" height="209.6" fill="none" stroke="#000" stroke-width="1.4"/>
<line x1="400.15" y1="216.9" x2="400.15" y2="213.7" stroke="#000" stroke-width="1.2"/>
<line x1="419.15" y1="216.9" x2="419.15" y2="210.4" stroke="#000" stroke-width="1.2"/>
<line x1="438.15" y1="216.9" x2="438.15" y2="213.7" stroke="#000" stroke-width="1.2"/>
<line x1="457.15" y1="216.9" x2="457.15" y2="210.4" stroke="#000" stroke-width="1.2"/>
<line x1="476.15" y1="216.9" x2="476.15" y2="213.7" stroke="#000" stroke-width="1.2"/>
<line x1="495.15" y1="216.9" x2="495.15" y2="210.4" stroke="#000" stroke-width="1.2"/>
<line x1="514.15" y1="216.9" x2="514.15" y2="213.7" stroke="#000" stroke-width="1.2"/>
<line x1="533.15" y1="216.9" x2="533.15" y2="210.4" stroke="#000" stroke-width="1.2"/>
<line x1="552.15" y1="216.9" x2="552.15" y2="213.7" stroke="#000" stroke-width="1.2"/>
<line x1="571.15" y1="216.9" x2="571.15" y2="210.4" stroke="#000" stroke-width="1.2"/>
<line x1="590.15" y1="216.9" x2="590.15" y2="213.7" stroke="#000" stroke-width="1.2"/>
<line x1="609.15" y1="216.9" x2="609.15" y2="210.4" stroke="#000" stroke-width="1.2"/>
<line x1="628.15" y1="216.9" x2="628.15" y2="213.7" stroke="#000" stroke-width="1.2"/>
<line x1="381.25" y1="195.93" x2="384.45" y2="195.93" stroke="#000" stroke-width="1.2"/>
<line x1="381.25" y1="174.96" x2="387.75" y2="174.96" stroke="#000" stroke-width="1.2"/>
<line x1="381.25" y1="153.99" x2="384.45" y2="153.99" stroke="#000" stroke-width="1.2"/>
<line x1="381.25" y1="133.02" x2="387.75" y2="133.02" stroke="#000" stroke-width="1.2"/>
<line x1="381.25" y1="112.05" x2="384.45" y2="112.05" stroke="#000" stroke-width="1.2"/>
<line x1="381.25" y1="91.08" x2="387.75" y2="91.08" stroke="#000" stroke-width="1.2"/>
<line x1="381.25" y1="70.11" x2="384.45" y2="70.11" stroke="#000" stroke-width="1.2"/>
<line x1="381.25" y1="49.14" x2="387.75" y2="49.14" stroke="#000" stroke-width="1.2"/>
<line x1="381.25" y1="28.17" x2="384.45" y2="28.17" stroke="#000" stroke-width="1.2"/>
<text x="381.15" y="235.3" text-anchor="middle" class="tl">0</text>
<text x="419.15" y="235.3" text-anchor="middle" class="tl">50</text>
<text x="457.15" y="235.3" text-anchor="middle" class="tl"><tspan class="o1" id="o1_3">1</tspan>00</text><path transform="translate(445.46,235.3) scale(0.006836,-0.006836)" d="M515 0L515 1237L197 1010L197 1180L530 1409L696 1409L696 0Z" fill="#111"/>
<text x="495.15" y="235.3" text-anchor="middle" class="tl"><tspan class="o1" id="o1_4">1</tspan>50</text><path transform="translate(483.46,235.3) scale(0.006836,-0.006836)" d="M515 0L515 1237L197 1010L197 1180L530 1409L696 1409L696 0Z" fill="#111"/>
<text x="533.15" y="235.3" text-anchor="middle" class="tl">200</text>
<text x="571.15" y="235.3" text-anchor="middle" class="tl">250</text>
<text x="609.15" y="235.3" text-anchor="middle" class="tl">300</text>
<text x="647.15" y="235.3" text-anchor="middle" class="tl">350</text>
<g transform="matrix(1,0,0,1.07,0,-15.53)"><text x="373.65" y="221.9" text-anchor="end" class="tl">0.0</text></g>
<g transform="matrix(1,0,0,1.07,0,-12.6)"><text x="373.65" y="179.96" text-anchor="end" class="tl">0.2</text></g>
<g transform="matrix(1,0,0,1.07,0,-9.66)"><text x="373.65" y="138.02" text-anchor="end" class="tl">0.4</text></g>
<g transform="matrix(1,0,0,1.07,0,-6.73)"><text x="373.65" y="96.08" text-anchor="end" class="tl">0.6</text></g>
<g transform="matrix(1,0,0,1.07,0,-3.79)"><text x="373.65" y="54.14" text-anchor="end" class="tl">0.8</text></g>
<g transform="matrix(1,0,0,1.07,0,-0.85)"><text x="373.65" y="12.2" text-anchor="end" class="tl"><tspan class="o1" id="o1_5">1</tspan>.0</text><path transform="translate(354.19,12.2) scale(0.006836,-0.006836)" d="M515 0L515 1237L197 1010L197 1180L530 1409L696 1409L696 0Z" fill="#111"/></g>
<text x="514.15" y="251.6" text-anchor="middle" class="xl">Time (ps)</text>
<line x1="217.3" y1="19.9" x2="244.3" y2="19.9" stroke="#ffff1a" stroke-width="1.6"/>
<text x="247.6" y="23.5" class="lg">zero field</text>
<line x1="217.3" y1="35.9" x2="244.3" y2="35.9" stroke="#ff8c3c" stroke-width="1.6"/>
<text x="247.6" y="39.5" class="lg"><tspan class="o1" id="o1_6">1</tspan>.0×<tspan class="o1" id="o1_7">1</tspan>0<tspan class="sup" dy="-4.5">5</tspan><tspan dy="4.5"> V/m</tspan></text><path transform="translate(247.6,39.5) scale(0.005566,-0.005566)" d="M515 0L515 1237L197 1010L197 1180L530 1409L696 1409L696 0Z" fill="#111"/><path transform="translate(270.1,39.5) scale(0.005566,-0.005566)" d="M515 0L515 1237L197 1010L197 1180L530 1409L696 1409L696 0Z" fill="#111"/>
<line x1="217.3" y1="51.9" x2="244.3" y2="51.9" stroke="#2ef2f2" stroke-width="1.6"/>
<text x="247.6" y="55.5" class="lg">2.5×<tspan class="o1" id="o1_8">1</tspan>0<tspan class="sup" dy="-4.5">6</tspan><tspan dy="4.5"> V/m</tspan></text><path transform="translate(270.1,55.5) scale(0.005566,-0.005566)" d="M515 0L515 1237L197 1010L197 1180L530 1409L696 1409L696 0Z" fill="#111"/>
<line x1="217.3" y1="67.9" x2="244.3" y2="67.9" stroke="#1a8c1a" stroke-width="1.6"/>
<text x="247.6" y="71.5" class="lg">2.5×<tspan class="o1" id="o1_9">1</tspan>0<tspan class="sup" dy="-4.5">7</tspan><tspan dy="4.5"> V/m</tspan></text><path transform="translate(270.1,71.5) scale(0.005566,-0.005566)" d="M515 0L515 1237L197 1010L197 1180L530 1409L696 1409L696 0Z" fill="#111"/>
<line x1="217.3" y1="83.9" x2="244.3" y2="83.9" stroke="#1a1aff" stroke-width="1.6"/>
<text x="247.6" y="87.5" class="lg">2.5×<tspan class="o1" id="o1_10">1</tspan>0<tspan class="sup" dy="-4.5">8</tspan><tspan dy="4.5"> V/m</tspan></text><path transform="translate(270.1,87.5) scale(0.005566,-0.005566)" d="M515 0L515 1237L197 1010L197 1180L530 1409L696 1409L696 0Z" fill="#111"/>
<line x1="217.3" y1="99.9" x2="244.3" y2="99.9" stroke="#ff1a1a" stroke-width="1.6"/>
<text x="247.6" y="103.5" class="lg">2.5×<tspan class="o1" id="o1_11">1</tspan>0<tspan class="sup" dy="-4.5">9</tspan><tspan dy="4.5"> V/m</tspan></text><path transform="translate(270.1,103.5) scale(0.005566,-0.005566)" d="M515 0L515 1237L197 1010L197 1180L530 1409L696 1409L696 0Z" fill="#111"/>
<line x1="217.3" y1="115.9" x2="244.3" y2="115.9" stroke="#000" stroke-width="1.6"/>
<text x="247.6" y="119.5" class="lg">9.0×<tspan class="o1" id="o1_12">1</tspan>0<tspan class="sup" dy="-4.5">9</tspan><tspan dy="4.5"> V/m</tspan></text><path transform="translate(270.1,119.5) scale(0.005566,-0.005566)" d="M515 0L515 1237L197 1010L197 1180L530 1409L696 1409L696 0Z" fill="#111"/>
<line x1="548.8" y1="19.9" x2="575.8" y2="19.9" stroke="#ffff1a" stroke-width="1.6"/>
<text x="579.1" y="23.5" class="lg">zero field</text>
<line x1="548.8" y1="35.9" x2="575.8" y2="35.9" stroke="#ff8c3c" stroke-width="1.6"/>
<text x="579.1" y="39.5" class="lg"><tspan class="o1" id="o1_13">1</tspan>.0×<tspan class="o1" id="o1_14">1</tspan>0<tspan class="sup" dy="-4.5">5</tspan><tspan dy="4.5"> V/m</tspan></text><path transform="translate(579.1,39.5) scale(0.005566,-0.005566)" d="M515 0L515 1237L197 1010L197 1180L530 1409L696 1409L696 0Z" fill="#111"/><path transform="translate(601.6,39.5) scale(0.005566,-0.005566)" d="M515 0L515 1237L197 1010L197 1180L530 1409L696 1409L696 0Z" fill="#111"/>
<line x1="548.8" y1="51.9" x2="575.8" y2="51.9" stroke="#2ef2f2" stroke-width="1.6"/>
<text x="579.1" y="55.5" class="lg">2.5×<tspan class="o1" id="o1_15">1</tspan>0<tspan class="sup" dy="-4.5">6</tspan><tspan dy="4.5"> V/m</tspan></text><path transform="translate(601.6,55.5) scale(0.005566,-0.005566)" d="M515 0L515 1237L197 1010L197 1180L530 1409L696 1409L696 0Z" fill="#111"/>
<line x1="548.8" y1="67.9" x2="575.8" y2="67.9" stroke="#1a8c1a" stroke-width="1.6"/>
<text x="579.1" y="71.5" class="lg">2.5×<tspan class="o1" id="o1_16">1</tspan>0<tspan class="sup" dy="-4.5">7</tspan><tspan dy="4.5"> V/m</tspan></text><path transform="translate(601.6,71.5) scale(0.005566,-0.005566)" d="M515 0L515 1237L197 1010L197 1180L530 1409L696 1409L696 0Z" fill="#111"/>
<line x1="548.8" y1="83.9" x2="575.8" y2="83.9" stroke="#1a1aff" stroke-width="1.6"/>
<text x="579.1" y="87.5" class="lg">2.5×<tspan class="o1" id="o1_17">1</tspan>0<tspan class="sup" dy="-4.5">8</tspan><tspan dy="4.5"> V/m</tspan></text><path transform="translate(601.6,87.5) scale(0.005566,-0.005566)" d="M515 0L515 1237L197 1010L197 1180L530 1409L696 1409L696 0Z" fill="#111"/>
<line x1="548.8" y1="99.9" x2="575.8" y2="99.9" stroke="#ff1a1a" stroke-width="1.6"/>
<text x="579.1" y="103.5" class="lg">2.5×<tspan class="o1" id="o1_18">1</tspan>0<tspan class="sup" dy="-4.5">9</tspan><tspan dy="4.5"> V/m</tspan></text><path transform="translate(601.6,103.5) scale(0.005566,-0.005566)" d="M515 0L515 1237L197 1010L197 1180L530 1409L696 1409L696 0Z" fill="#111"/>
<line x1="548.8" y1="115.9" x2="575.8" y2="115.9" stroke="#000" stroke-width="1.6"/>
<text x="579.1" y="119.5" class="lg">9.0×<tspan class="o1" id="o1_19">1</tspan>0<tspan class="sup" dy="-4.5">9</tspan><tspan dy="4.5"> V/m</tspan></text><path transform="translate(601.6,119.5) scale(0.005566,-0.005566)" d="M515 0L515 1237L197 1010L197 1180L530 1409L696 1409L696 0Z" fill="#111"/>
<line x1="138.5" y1="51.4" x2="143.8" y2="66.8" stroke="#5b8fd6" stroke-width="0.9" stroke-dasharray="1.6,1.4"/>
<line x1="143.8" y1="66.8" x2="161.4" y2="61.4" stroke="#5b8fd6" stroke-width="0.9" stroke-dasharray="1.6,1.4"/>
<line x1="123.6" y1="60.6" x2="138.3" y2="73.2" stroke="#5b8fd6" stroke-width="0.9" stroke-dasharray="1.6,1.4"/>
<line x1="138.5" y1="40.5" x2="138.5" y2="45.95" stroke="#c0b800" stroke-width="3.4"/>
<line x1="138.5" y1="40.09" x2="138.5" y2="45.54" stroke="#ffff80" stroke-width="1.29"/>
<line x1="138.5" y1="45.95" x2="138.5" y2="51.4" stroke="#c00000" stroke-width="3.4"/>
<line x1="138.5" y1="45.54" x2="138.5" y2="50.99" stroke="#ff5a5a" stroke-width="1.29"/>
<line x1="138.5" y1="40.5" x2="131.5" y2="37.85" stroke="#c0b800" stroke-width="3.4"/>
<line x1="138.5" y1="40.09" x2="131.5" y2="37.44" stroke="#ffff80" stroke-width="1.29"/>
<line x1="131.5" y1="37.85" x2="124.5" y2="35.2" stroke="#6a6a6a" stroke-width="3.4"/>
<line x1="131.5" y1="37.44" x2="124.5" y2="34.79" stroke="#b8b8b8" stroke-width="1.29"/>
<line x1="138.5" y1="40.5" x2="144.3" y2="37.15" stroke="#c0b800" stroke-width="3.4"/>
<line x1="138.5" y1="40.09" x2="144.3" y2="36.74" stroke="#ffff80" stroke-width="1.29"/>
<line x1="144.3" y1="37.15" x2="150.1" y2="33.8" stroke="#6a6a6a" stroke-width="3.4"/>
<line x1="144.3" y1="36.74" x2="150.1" y2="33.39" stroke="#b8b8b8" stroke-width="1.29"/>
<line x1="124.5" y1="35.2" x2="124.65" y2="29.8" stroke="#6a6a6a" stroke-width="3.4"/>
<line x1="124.5" y1="34.79" x2="124.65" y2="29.39" stroke="#b8b8b8" stroke-width="1.29"/>
<line x1="124.65" y1="29.8" x2="124.8" y2="24.4" stroke="#a8a8a8" stroke-width="3.4"/>
<line x1="124.65" y1="29.39" x2="124.8" y2="23.99" stroke="#f2f2f2" stroke-width="1.29"/>
<line x1="124.5" y1="35.2" x2="124.95" y2="33.6" stroke="#6a6a6a" stroke-width="3.4"/>
<line x1="124.5" y1="34.79" x2="124.95" y2="33.19" stroke="#b8b8b8" stroke-width="1.29"/>
<line x1="124.95" y1="33.6" x2="125.4" y2="32" stroke="#a8a8a8" stroke-width="3.4"/>
<line x1="124.95" y1="33.19" x2="125.4" y2="31.59" stroke="#f2f2f2" stroke-width="1.29"/>
<line x1="124.5" y1="35.2" x2="120.9" y2="37.1" stroke="#6a6a6a" stroke-width="3.4"/>
<line x1="124.5" y1="34.79" x2="120.9" y2="36.69" stroke="#b8b8b8" stroke-width="1.29"/>
<line x1="120.9" y1="37.1" x2="117.3" y2="39" stroke="#a8a8a8" stroke-width="3.4"/>
<line x1="120.9" y1="36.69" x2="117.3" y2="38.59" stroke="#f2f2f2" stroke-width="1.29"/>
<line x1="150.1" y1="33.8" x2="149.2" y2="29.4" stroke="#6a6a6a" stroke-width="3.4"/>
<line x1="150.1" y1="33.39" x2="149.2" y2="28.99" stroke="#b8b8b8" stroke-width="1.29"/>
<line x1="149.2" y1="29.4" x2="148.3" y2="25" stroke="#a8a8a8" stroke-width="3.4"/>
<line x1="149.2" y1="28.99" x2="148.3" y2="24.59" stroke="#f2f2f2" stroke-width="1.29"/>
<line x1="150.1" y1="33.8" x2="153.3" y2="31.75" stroke="#6a6a6a" stroke-width="3.4"/>
<line x1="150.1" y1="33.39" x2="153.3" y2="31.34" stroke="#b8b8b8" stroke-width="1.29"/>
<line x1="153.3" y1="31.75" x2="156.5" y2="29.7" stroke="#a8a8a8" stroke-width="3.4"/>
<line x1="153.3" y1="31.34" x2="156.5" y2="29.29" stroke="#f2f2f2" stroke-width="1.29"/>
<line x1="150.1" y1="33.8" x2="153.2" y2="36.7" stroke="#6a6a6a" stroke-width="3.4"/>
<line x1="150.1" y1="33.39" x2="153.2" y2="36.29" stroke="#b8b8b8" stroke-width="1.29"/>
<line x1="153.2" y1="36.7" x2="156.3" y2="39.6" stroke="#a8a8a8" stroke-width="3.4"/>
<line x1="153.2" y1="36.29" x2="156.3" y2="39.19" stroke="#f2f2f2" stroke-width="1.29"/>
<line x1="114.3" y1="60.6" x2="118.95" y2="60.6" stroke="#c00000" stroke-width="3.4"/>
<line x1="114.3" y1="60.19" x2="118.95" y2="60.19" stroke="#ff5a5a" stroke-width="1.29"/>
<line x1="118.95" y1="60.6" x2="123.6" y2="60.6" stroke="#a8a8a8" stroke-width="3.4"/>
<line x1="118.95" y1="60.19" x2="123.6" y2="60.19" stroke="#f2f2f2" stroke-width="1.29"/>
<line x1="114.3" y1="60.6" x2="112.1" y2="67" stroke="#c00000" stroke-width="3.4"/>
<line x1="114.3" y1="60.19" x2="112.1" y2="66.59" stroke="#ff5a5a" stroke-width="1.29"/>
<line x1="112.1" y1="67" x2="109.9" y2="73.4" stroke="#6a6a6a" stroke-width="3.4"/>
<line x1="112.1" y1="66.59" x2="109.9" y2="72.99" stroke="#b8b8b8" stroke-width="1.29"/>
<line x1="109.9" y1="73.4" x2="102.5" y2="74.15" stroke="#6a6a6a" stroke-width="3.4"/>
<line x1="109.9" y1="72.99" x2="102.5" y2="73.74" stroke="#b8b8b8" stroke-width="1.29"/>
<line x1="102.5" y1="74.15" x2="95.1" y2="74.9" stroke="#6a6a6a" stroke-width="3.4"/>
<line x1="102.5" y1="73.74" x2="95.1" y2="74.49" stroke="#b8b8b8" stroke-width="1.29"/>
<line x1="95.1" y1="74.9" x2="92.4" y2="71.8" stroke="#6a6a6a" stroke-width="3.4"/>
<line x1="95.1" y1="74.49" x2="92.4" y2="71.39" stroke="#b8b8b8" stroke-width="1.29"/>
<line x1="92.4" y1="71.8" x2="89.7" y2="68.7" stroke="#a8a8a8" stroke-width="3.4"/>
<line x1="92.4" y1="71.39" x2="89.7" y2="68.29" stroke="#f2f2f2" stroke-width="1.29"/>
<line x1="95.1" y1="74.9" x2="93.15" y2="78.8" stroke="#6a6a6a" stroke-width="3.4"/>
<line x1="95.1" y1="74.49" x2="93.15" y2="78.39" stroke="#b8b8b8" stroke-width="1.29"/>
<line x1="93.15" y1="78.8" x2="91.2" y2="82.7" stroke="#a8a8a8" stroke-width="3.4"/>
<line x1="93.15" y1="78.39" x2="91.2" y2="82.29" stroke="#f2f2f2" stroke-width="1.29"/>
<line x1="95.1" y1="74.9" x2="94.7" y2="71.25" stroke="#6a6a6a" stroke-width="3.4"/>
<line x1="95.1" y1="74.49" x2="94.7" y2="70.84" stroke="#b8b8b8" stroke-width="1.29"/>
<line x1="94.7" y1="71.25" x2="94.3" y2="67.6" stroke="#a8a8a8" stroke-width="3.4"/>
<line x1="94.7" y1="70.84" x2="94.3" y2="67.19" stroke="#f2f2f2" stroke-width="1.29"/>
<line x1="109.9" y1="73.4" x2="111.1" y2="76.1" stroke="#6a6a6a" stroke-width="3.4"/>
<line x1="109.9" y1="72.99" x2="111.1" y2="75.69" stroke="#b8b8b8" stroke-width="1.29"/>
<line x1="111.1" y1="76.1" x2="112.3" y2="78.8" stroke="#a8a8a8" stroke-width="3.4"/>
<line x1="111.1" y1="75.69" x2="112.3" y2="78.39" stroke="#f2f2f2" stroke-width="1.29"/>
<line x1="109.9" y1="73.4" x2="112.65" y2="76.1" stroke="#6a6a6a" stroke-width="3.4"/>
<line x1="109.9" y1="72.99" x2="112.65" y2="75.69" stroke="#b8b8b8" stroke-width="1.29"/>
<line x1="112.65" y1="76.1" x2="115.4" y2="78.8" stroke="#a8a8a8" stroke-width="3.4"/>
<line x1="112.65" y1="75.69" x2="115.4" y2="78.39" stroke="#f2f2f2" stroke-width="1.29"/>
<line x1="138.3" y1="73.2" x2="141.05" y2="70" stroke="#c00000" stroke-width="3.4"/>
<line x1="138.3" y1="72.79" x2="141.05" y2="69.59" stroke="#ff5a5a" stroke-width="1.29"/>
<line x1="141.05" y1="70" x2="143.8" y2="66.8" stroke="#a8a8a8" stroke-width="3.4"/>
<line x1="141.05" y1="69.59" x2="143.8" y2="66.39" stroke="#f2f2f2" stroke-width="1.29"/>
<line x1="138.3" y1="73.2" x2="141.6" y2="79" stroke="#c00000" stroke-width="3.4"/>
<line x1="138.3" y1="72.79" x2="141.6" y2="78.59" stroke="#ff5a5a" stroke-width="1.29"/>
<line x1="141.6" y1="79" x2="144.9" y2="84.8" stroke="#6a6a6a" stroke-width="3.4"/>
<line x1="141.6" y1="78.59" x2="144.9" y2="84.39" stroke="#b8b8b8" stroke-width="1.29"/>
<line x1="144.9" y1="84.8" x2="148.95" y2="84.25" stroke="#6a6a6a" stroke-width="3.4"/>
<line x1="144.9" y1="84.39" x2="148.95" y2="83.84" stroke="#b8b8b8" stroke-width="1.29"/>
<line x1="148.95" y1="84.25" x2="153" y2="83.7" stroke="#a8a8a8" stroke-width="3.4"/>
<line x1="148.95" y1="83.84" x2="153" y2="83.29" stroke="#f2f2f2" stroke-width="1.29"/>
<line x1="144.9" y1="84.8" x2="140.6" y2="90.65" stroke="#6a6a6a" stroke-width="3.4"/>
<line x1="144.9" y1="84.39" x2="140.6" y2="90.24" stroke="#b8b8b8" stroke-width="1.29"/>
<line x1="140.6" y1="90.65" x2="136.3" y2="96.5" stroke="#6a6a6a" stroke-width="3.4"/>
<line x1="140.6" y1="90.24" x2="136.3" y2="96.09" stroke="#b8b8b8" stroke-width="1.29"/>
<line x1="136.3" y1="96.5" x2="131.9" y2="96.85" stroke="#6a6a6a" stroke-width="3.4"/>
<line x1="136.3" y1="96.09" x2="131.9" y2="96.44" stroke="#b8b8b8" stroke-width="1.29"/>
<line x1="131.9" y1="96.85" x2="127.5" y2="97.2" stroke="#a8a8a8" stroke-width="3.4"/>
<line x1="131.9" y1="96.44" x2="127.5" y2="96.79" stroke="#f2f2f2" stroke-width="1.29"/>
<line x1="136.3" y1="96.5" x2="134" y2="94.15" stroke="#6a6a6a" stroke-width="3.4"/>
<line x1="136.3" y1="96.09" x2="134" y2="93.74" stroke="#b8b8b8" stroke-width="1.29"/>
<line x1="134" y1="94.15" x2="131.7" y2="91.8" stroke="#a8a8a8" stroke-width="3.4"/>
<line x1="134" y1="93.74" x2="131.7" y2="91.39" stroke="#f2f2f2" stroke-width="1.29"/>
<line x1="136.3" y1="96.5" x2="139.05" y2="100.75" stroke="#6a6a6a" stroke-width="3.4"/>
<line x1="136.3" y1="96.09" x2="139.05" y2="100.34" stroke="#b8b8b8" stroke-width="1.29"/>
<line x1="139.05" y1="100.75" x2="141.8" y2="105" stroke="#a8a8a8" stroke-width="3.4"/>
<line x1="139.05" y1="100.34" x2="141.8" y2="104.59" stroke="#f2f2f2" stroke-width="1.29"/>
<line x1="161.4" y1="61.4" x2="159.65" y2="56.75" stroke="#c00000" stroke-width="3.4"/>
<line x1="161.4" y1="60.99" x2="159.65" y2="56.34" stroke="#ff5a5a" stroke-width="1.29"/>
<line x1="159.65" y1="56.75" x2="157.9" y2="52.1" stroke="#a8a8a8" stroke-width="3.4"/>
<line x1="159.65" y1="56.34" x2="157.9" y2="51.69" stroke="#f2f2f2" stroke-width="1.29"/>
<line x1="161.4" y1="61.4" x2="167.3" y2="61.85" stroke="#c00000" stroke-width="3.4"/>
<line x1="161.4" y1="60.99" x2="167.3" y2="61.44" stroke="#ff5a5a" stroke-width="1.29"/>
<line x1="167.3" y1="61.85" x2="173.2" y2="62.3" stroke="#6a6a6a" stroke-width="3.4"/>
<line x1="167.3" y1="61.44" x2="173.2" y2="61.89" stroke="#b8b8b8" stroke-width="1.29"/>
<line x1="173.2" y1="62.3" x2="176.05" y2="58.45" stroke="#6a6a6a" stroke-width="3.4"/>
<line x1="173.2" y1="61.89" x2="176.05" y2="58.04" stroke="#b8b8b8" stroke-width="1.29"/>
<line x1="176.05" y1="58.45" x2="178.9" y2="54.6" stroke="#a8a8a8" stroke-width="3.4"/>
<line x1="176.05" y1="58.04" x2="178.9" y2="54.19" stroke="#f2f2f2" stroke-width="1.29"/>
<line x1="173.2" y1="62.3" x2="174.75" y2="59.8" stroke="#6a6a6a" stroke-width="3.4"/>
<line x1="173.2" y1="61.89" x2="174.75" y2="59.39" stroke="#b8b8b8" stroke-width="1.29"/>
<line x1="174.75" y1="59.8" x2="176.3" y2="57.3" stroke="#a8a8a8" stroke-width="3.4"/>
<line x1="174.75" y1="59.39" x2="176.3" y2="56.89" stroke="#f2f2f2" stroke-width="1.29"/>
<line x1="173.2" y1="62.3" x2="176.6" y2="68.85" stroke="#6a6a6a" stroke-width="3.4"/>
<line x1="173.2" y1="61.89" x2="176.6" y2="68.44" stroke="#b8b8b8" stroke-width="1.29"/>
<line x1="176.6" y1="68.85" x2="180" y2="75.4" stroke="#6a6a6a" stroke-width="3.4"/>
<line x1="176.6" y1="68.44" x2="180" y2="74.99" stroke="#b8b8b8" stroke-width="1.29"/>
<line x1="180" y1="75.4" x2="185.2" y2="75.15" stroke="#6a6a6a" stroke-width="3.4"/>
<line x1="180" y1="74.99" x2="185.2" y2="74.74" stroke="#b8b8b8" stroke-width="1.29"/>
<line x1="185.2" y1="75.15" x2="190.4" y2="74.9" stroke="#a8a8a8" stroke-width="3.4"/>
<line x1="185.2" y1="74.74" x2="190.4" y2="74.49" stroke="#f2f2f2" stroke-width="1.29"/>
<line x1="180" y1="75.4" x2="177.7" y2="78.15" stroke="#6a6a6a" stroke-width="3.4"/>
<line x1="180" y1="74.99" x2="177.7" y2="77.74" stroke="#b8b8b8" stroke-width="1.29"/>
<line x1="177.7" y1="78.15" x2="175.4" y2="80.9" stroke="#a8a8a8" stroke-width="3.4"/>
<line x1="177.7" y1="77.74" x2="175.4" y2="80.49" stroke="#f2f2f2" stroke-width="1.29"/>
<circle cx="138.5" cy="40.5" r="3.68" fill="url(#gS)"/>
<circle cx="138.5" cy="51.4" r="3.68" fill="url(#gO)"/>
<circle cx="124.5" cy="35.2" r="2.76" fill="url(#gC)"/>
<circle cx="150.1" cy="33.8" r="2.76" fill="url(#gC)"/>
<circle cx="124.8" cy="24.4" r="3.45" fill="url(#gH)"/>
<circle cx="125.4" cy="32" r="3.45" fill="url(#gH)"/>
<circle cx="117.3" cy="39" r="3.45" fill="url(#gH)"/>
<circle cx="148.3" cy="25" r="3.45" fill="url(#gH)"/>
<circle cx="156.5" cy="29.7" r="3.45" fill="url(#gH)"/>
<circle cx="156.3" cy="39.6" r="3.45" fill="url(#gH)"/>
<circle cx="114.3" cy="60.6" r="3.68" fill="url(#gO)"/>
<circle cx="123.6" cy="60.6" r="3.45" fill="url(#gH)"/>
<circle cx="109.9" cy="73.4" r="2.76" fill="url(#gC)"/>
<circle cx="95.1" cy="74.9" r="2.76" fill="url(#gC)"/>
<circle cx="89.7" cy="68.7" r="3.45" fill="url(#gH)"/>
<circle cx="91.2" cy="82.7" r="3.45" fill="url(#gH)"/>
<circle cx="94.3" cy="67.6" r="3.45" fill="url(#gH)"/>
<circle cx="112.3" cy="78.8" r="3.45" fill="url(#gH)"/>
<circle cx="115.4" cy="78.8" r="3.45" fill="url(#gH)"/>
<circle cx="138.3" cy="73.2" r="3.68" fill="url(#gO)"/>
<circle cx="143.8" cy="66.8" r="3.45" fill="url(#gH)"/>
<circle cx="144.9" cy="84.8" r="2.76" fill="url(#gC)"/>
<circle cx="153" cy="83.7" r="3.45" fill="url(#gH)"/>
<circle cx="136.3" cy="96.5" r="2.76" fill="url(#gC)"/>
<circle cx="127.5" cy="97.2" r="3.45" fill="url(#gH)"/>
<circle cx="131.7" cy="91.8" r="3.45" fill="url(#gH)"/>
<circle cx="141.8" cy="105" r="3.45" fill="url(#gH)"/>
<circle cx="161.4" cy="61.4" r="3.68" fill="url(#gO)"/>
<circle cx="157.9" cy="52.1" r="3.45" fill="url(#gH)"/>
<circle cx="173.2" cy="62.3" r="2.76" fill="url(#gC)"/>
<circle cx="178.9" cy="54.6" r="3.45" fill="url(#gH)"/>
<circle cx="176.3" cy="57.3" r="3.45" fill="url(#gH)"/>
<circle cx="180" cy="75.4" r="2.76" fill="url(#gC)"/>
<circle cx="190.4" cy="74.9" r="3.45" fill="url(#gH)"/>
<circle cx="175.4" cy="80.9" r="3.45" fill="url(#gH)"/>
<line x1="463.8" y1="50.6" x2="478.9" y2="50.4" stroke="#8fb4e0" stroke-width="0.8" stroke-dasharray="1.6,1.4"/>
<line x1="486.5" y1="49.2" x2="496.2" y2="62.4" stroke="#8fb4e0" stroke-width="0.8" stroke-dasharray="1.6,1.4"/>
<line x1="500.9" y1="69.4" x2="491.8" y2="82.4" stroke="#8fb4e0" stroke-width="0.8" stroke-dasharray="1.6,1.4"/>
<line x1="487.1" y1="89.6" x2="474.5" y2="91.8" stroke="#8fb4e0" stroke-width="0.8" stroke-dasharray="1.6,1.4"/>
<line x1="466.6" y1="90.9" x2="459.6" y2="78" stroke="#8fb4e0" stroke-width="0.8" stroke-dasharray="1.6,1.4"/>
<line x1="455" y1="71.8" x2="459.6" y2="57" stroke="#8fb4e0" stroke-width="0.8" stroke-dasharray="1.6,1.4"/>
<line x1="463.8" y1="50.6" x2="460.05" y2="46" stroke="#c00000" stroke-width="3.2"/>
<line x1="463.8" y1="50.22" x2="460.05" y2="45.62" stroke="#ff5a5a" stroke-width="1.22"/>
<line x1="460.05" y1="46" x2="456.3" y2="41.4" stroke="#6a6a6a" stroke-width="3.2"/>
<line x1="460.05" y1="45.62" x2="456.3" y2="41.02" stroke="#b8b8b8" stroke-width="1.22"/>
<line x1="456.3" y1="41.4" x2="453.2" y2="41.4" stroke="#6a6a6a" stroke-width="3.2"/>
<line x1="456.3" y1="41.02" x2="453.2" y2="41.02" stroke="#b8b8b8" stroke-width="1.22"/>
<line x1="453.2" y1="41.4" x2="450.1" y2="41.4" stroke="#a8a8a8" stroke-width="3.2"/>
<line x1="453.2" y1="41.02" x2="450.1" y2="41.02" stroke="#f2f2f2" stroke-width="1.22"/>
<line x1="456.3" y1="41.4" x2="459.8" y2="35.6" stroke="#6a6a6a" stroke-width="3.2"/>
<line x1="456.3" y1="41.02" x2="459.8" y2="35.22" stroke="#b8b8b8" stroke-width="1.22"/>
<line x1="459.8" y1="35.6" x2="463.3" y2="29.8" stroke="#6a6a6a" stroke-width="3.2"/>
<line x1="459.8" y1="35.22" x2="463.3" y2="29.42" stroke="#b8b8b8" stroke-width="1.22"/>
<line x1="463.3" y1="29.8" x2="459.8" y2="26.3" stroke="#6a6a6a" stroke-width="3.2"/>
<line x1="463.3" y1="29.42" x2="459.8" y2="25.92" stroke="#b8b8b8" stroke-width="1.22"/>
<line x1="459.8" y1="26.3" x2="456.3" y2="22.8" stroke="#a8a8a8" stroke-width="3.2"/>
<line x1="459.8" y1="25.92" x2="456.3" y2="22.42" stroke="#f2f2f2" stroke-width="1.22"/>
<line x1="463.3" y1="29.8" x2="466.05" y2="29.8" stroke="#6a6a6a" stroke-width="3.2"/>
<line x1="463.3" y1="29.42" x2="466.05" y2="29.42" stroke="#b8b8b8" stroke-width="1.22"/>
<line x1="466.05" y1="29.8" x2="468.8" y2="29.8" stroke="#a8a8a8" stroke-width="3.2"/>
<line x1="466.05" y1="29.42" x2="468.8" y2="29.42" stroke="#f2f2f2" stroke-width="1.22"/>
<line x1="463.3" y1="29.8" x2="462.15" y2="27.65" stroke="#6a6a6a" stroke-width="3.2"/>
<line x1="463.3" y1="29.42" x2="462.15" y2="27.27" stroke="#b8b8b8" stroke-width="1.22"/>
<line x1="462.15" y1="27.65" x2="461" y2="25.5" stroke="#a8a8a8" stroke-width="3.2"/>
<line x1="462.15" y1="27.27" x2="461" y2="25.12" stroke="#f2f2f2" stroke-width="1.22"/>
<line x1="463.8" y1="50.6" x2="461.7" y2="53.8" stroke="#c00000" stroke-width="3.2"/>
<line x1="463.8" y1="50.22" x2="461.7" y2="53.42" stroke="#ff5a5a" stroke-width="1.22"/>
<line x1="461.7" y1="53.8" x2="459.6" y2="57" stroke="#a8a8a8" stroke-width="3.2"/>
<line x1="461.7" y1="53.42" x2="459.6" y2="56.62" stroke="#f2f2f2" stroke-width="1.22"/>
<line x1="486.5" y1="49.2" x2="482.7" y2="49.8" stroke="#c00000" stroke-width="3.2"/>
<line x1="486.5" y1="48.82" x2="482.7" y2="49.42" stroke="#ff5a5a" stroke-width="1.22"/>
<line x1="482.7" y1="49.8" x2="478.9" y2="50.4" stroke="#a8a8a8" stroke-width="3.2"/>
<line x1="482.7" y1="49.42" x2="478.9" y2="50.02" stroke="#f2f2f2" stroke-width="1.22"/>
<line x1="486.5" y1="49.2" x2="487.5" y2="43.35" stroke="#c00000" stroke-width="3.2"/>
<line x1="486.5" y1="48.82" x2="487.5" y2="42.97" stroke="#ff5a5a" stroke-width="1.22"/>
<line x1="487.5" y1="43.35" x2="488.5" y2="37.5" stroke="#6a6a6a" stroke-width="3.2"/>
<line x1="487.5" y1="42.97" x2="488.5" y2="37.12" stroke="#b8b8b8" stroke-width="1.22"/>
<line x1="488.5" y1="37.5" x2="486.6" y2="35.2" stroke="#6a6a6a" stroke-width="3.2"/>
<line x1="488.5" y1="37.12" x2="486.6" y2="34.82" stroke="#b8b8b8" stroke-width="1.22"/>
<line x1="486.6" y1="35.2" x2="484.7" y2="32.9" stroke="#a8a8a8" stroke-width="3.2"/>
<line x1="486.6" y1="34.82" x2="484.7" y2="32.52" stroke="#f2f2f2" stroke-width="1.22"/>
<line x1="488.5" y1="37.5" x2="495.15" y2="35.95" stroke="#6a6a6a" stroke-width="3.2"/>
<line x1="488.5" y1="37.12" x2="495.15" y2="35.57" stroke="#b8b8b8" stroke-width="1.22"/>
<line x1="495.15" y1="35.95" x2="501.8" y2="34.4" stroke="#6a6a6a" stroke-width="3.2"/>
<line x1="495.15" y1="35.57" x2="501.8" y2="34.02" stroke="#b8b8b8" stroke-width="1.22"/>
<line x1="501.8" y1="34.4" x2="502.55" y2="30.15" stroke="#6a6a6a" stroke-width="3.2"/>
<line x1="501.8" y1="34.02" x2="502.55" y2="29.77" stroke="#b8b8b8" stroke-width="1.22"/>
<line x1="502.55" y1="30.15" x2="503.3" y2="25.9" stroke="#a8a8a8" stroke-width="3.2"/>
<line x1="502.55" y1="29.77" x2="503.3" y2="25.52" stroke="#f2f2f2" stroke-width="1.22"/>
<line x1="501.8" y1="34.4" x2="503.7" y2="36.35" stroke="#6a6a6a" stroke-width="3.2"/>
<line x1="501.8" y1="34.02" x2="503.7" y2="35.97" stroke="#b8b8b8" stroke-width="1.22"/>
<line x1="503.7" y1="36.35" x2="505.6" y2="38.3" stroke="#a8a8a8" stroke-width="3.2"/>
<line x1="503.7" y1="35.97" x2="505.6" y2="37.92" stroke="#f2f2f2" stroke-width="1.22"/>
<line x1="500.9" y1="69.4" x2="498.55" y2="65.9" stroke="#c00000" stroke-width="3.2"/>
<line x1="500.9" y1="69.02" x2="498.55" y2="65.52" stroke="#ff5a5a" stroke-width="1.22"/>
<line x1="498.55" y1="65.9" x2="496.2" y2="62.4" stroke="#a8a8a8" stroke-width="3.2"/>
<line x1="498.55" y1="65.52" x2="496.2" y2="62.02" stroke="#f2f2f2" stroke-width="1.22"/>
<line x1="500.9" y1="69.4" x2="506.35" y2="68.65" stroke="#c00000" stroke-width="3.2"/>
<line x1="500.9" y1="69.02" x2="506.35" y2="68.27" stroke="#ff5a5a" stroke-width="1.22"/>
<line x1="506.35" y1="68.65" x2="511.8" y2="67.9" stroke="#6a6a6a" stroke-width="3.2"/>
<line x1="506.35" y1="68.27" x2="511.8" y2="67.52" stroke="#b8b8b8" stroke-width="1.22"/>
<line x1="511.8" y1="67.9" x2="513.35" y2="64.8" stroke="#6a6a6a" stroke-width="3.2"/>
<line x1="511.8" y1="67.52" x2="513.35" y2="64.42" stroke="#b8b8b8" stroke-width="1.22"/>
<line x1="513.35" y1="64.8" x2="514.9" y2="61.7" stroke="#a8a8a8" stroke-width="3.2"/>
<line x1="513.35" y1="64.42" x2="514.9" y2="61.32" stroke="#f2f2f2" stroke-width="1.22"/>
<line x1="511.8" y1="67.9" x2="516.05" y2="72.95" stroke="#6a6a6a" stroke-width="3.2"/>
<line x1="511.8" y1="67.52" x2="516.05" y2="72.57" stroke="#b8b8b8" stroke-width="1.22"/>
<line x1="516.05" y1="72.95" x2="520.3" y2="78" stroke="#6a6a6a" stroke-width="3.2"/>
<line x1="516.05" y1="72.57" x2="520.3" y2="77.62" stroke="#b8b8b8" stroke-width="1.22"/>
<line x1="520.3" y1="78" x2="524.6" y2="77.2" stroke="#6a6a6a" stroke-width="3.2"/>
<line x1="520.3" y1="77.62" x2="524.6" y2="76.82" stroke="#b8b8b8" stroke-width="1.22"/>
<line x1="524.6" y1="77.2" x2="528.9" y2="76.4" stroke="#a8a8a8" stroke-width="3.2"/>
<line x1="524.6" y1="76.82" x2="528.9" y2="76.02" stroke="#f2f2f2" stroke-width="1.22"/>
<line x1="520.3" y1="78" x2="518.75" y2="80.3" stroke="#6a6a6a" stroke-width="3.2"/>
<line x1="520.3" y1="77.62" x2="518.75" y2="79.92" stroke="#b8b8b8" stroke-width="1.22"/>
<line x1="518.75" y1="80.3" x2="517.2" y2="82.6" stroke="#a8a8a8" stroke-width="3.2"/>
<line x1="518.75" y1="79.92" x2="517.2" y2="82.22" stroke="#f2f2f2" stroke-width="1.22"/>
<line x1="487.1" y1="89.6" x2="489.45" y2="86" stroke="#c00000" stroke-width="3.2"/>
<line x1="487.1" y1="89.22" x2="489.45" y2="85.62" stroke="#ff5a5a" stroke-width="1.22"/>
<line x1="489.45" y1="86" x2="491.8" y2="82.4" stroke="#a8a8a8" stroke-width="3.2"/>
<line x1="489.45" y1="85.62" x2="491.8" y2="82.02" stroke="#f2f2f2" stroke-width="1.22"/>
<line x1="487.1" y1="89.6" x2="491" y2="93.95" stroke="#c00000" stroke-width="3.2"/>
<line x1="487.1" y1="89.22" x2="491" y2="93.57" stroke="#ff5a5a" stroke-width="1.22"/>
<line x1="491" y1="93.95" x2="494.9" y2="98.3" stroke="#6a6a6a" stroke-width="3.2"/>
<line x1="491" y1="93.57" x2="494.9" y2="97.92" stroke="#b8b8b8" stroke-width="1.22"/>
<line x1="494.9" y1="98.3" x2="498" y2="98.3" stroke="#6a6a6a" stroke-width="3.2"/>
<line x1="494.9" y1="97.92" x2="498" y2="97.92" stroke="#b8b8b8" stroke-width="1.22"/>
<line x1="498" y1="98.3" x2="501.1" y2="98.3" stroke="#a8a8a8" stroke-width="3.2"/>
<line x1="498" y1="97.92" x2="501.1" y2="97.92" stroke="#f2f2f2" stroke-width="1.22"/>
<line x1="494.9" y1="98.3" x2="491.8" y2="104.25" stroke="#6a6a6a" stroke-width="3.2"/>
<line x1="494.9" y1="97.92" x2="491.8" y2="103.87" stroke="#b8b8b8" stroke-width="1.22"/>
<line x1="491.8" y1="104.25" x2="488.7" y2="110.2" stroke="#6a6a6a" stroke-width="3.2"/>
<line x1="491.8" y1="103.87" x2="488.7" y2="109.82" stroke="#b8b8b8" stroke-width="1.22"/>
<line x1="488.7" y1="110.2" x2="485.95" y2="110.2" stroke="#6a6a6a" stroke-width="3.2"/>
<line x1="488.7" y1="109.82" x2="485.95" y2="109.82" stroke="#b8b8b8" stroke-width="1.22"/>
<line x1="485.95" y1="110.2" x2="483.2" y2="110.2" stroke="#a8a8a8" stroke-width="3.2"/>
<line x1="485.95" y1="109.82" x2="483.2" y2="109.82" stroke="#f2f2f2" stroke-width="1.22"/>
<line x1="488.7" y1="110.2" x2="491.8" y2="113.7" stroke="#6a6a6a" stroke-width="3.2"/>
<line x1="488.7" y1="109.82" x2="491.8" y2="113.32" stroke="#b8b8b8" stroke-width="1.22"/>
<line x1="491.8" y1="113.7" x2="494.9" y2="117.2" stroke="#a8a8a8" stroke-width="3.2"/>
<line x1="491.8" y1="113.32" x2="494.9" y2="116.82" stroke="#f2f2f2" stroke-width="1.22"/>
<line x1="466.6" y1="90.9" x2="470.55" y2="91.35" stroke="#c00000" stroke-width="3.2"/>
<line x1="466.6" y1="90.52" x2="470.55" y2="90.97" stroke="#ff5a5a" stroke-width="1.22"/>
<line x1="470.55" y1="91.35" x2="474.5" y2="91.8" stroke="#a8a8a8" stroke-width="3.2"/>
<line x1="470.55" y1="90.97" x2="474.5" y2="91.42" stroke="#f2f2f2" stroke-width="1.22"/>
<line x1="466.6" y1="90.9" x2="464.3" y2="96.7" stroke="#c00000" stroke-width="3.2"/>
<line x1="466.6" y1="90.52" x2="464.3" y2="96.32" stroke="#ff5a5a" stroke-width="1.22"/>
<line x1="464.3" y1="96.7" x2="462" y2="102.5" stroke="#6a6a6a" stroke-width="3.2"/>
<line x1="464.3" y1="96.32" x2="462" y2="102.12" stroke="#b8b8b8" stroke-width="1.22"/>
<line x1="462" y1="102.5" x2="463.95" y2="105.25" stroke="#6a6a6a" stroke-width="3.2"/>
<line x1="462" y1="102.12" x2="463.95" y2="104.87" stroke="#b8b8b8" stroke-width="1.22"/>
<line x1="463.95" y1="105.25" x2="465.9" y2="108" stroke="#a8a8a8" stroke-width="3.2"/>
<line x1="463.95" y1="104.87" x2="465.9" y2="107.62" stroke="#f2f2f2" stroke-width="1.22"/>
<line x1="462" y1="102.5" x2="455.75" y2="102.9" stroke="#6a6a6a" stroke-width="3.2"/>
<line x1="462" y1="102.12" x2="455.75" y2="102.52" stroke="#b8b8b8" stroke-width="1.22"/>
<line x1="455.75" y1="102.9" x2="449.5" y2="103.3" stroke="#6a6a6a" stroke-width="3.2"/>
<line x1="455.75" y1="102.52" x2="449.5" y2="102.92" stroke="#b8b8b8" stroke-width="1.22"/>
<line x1="449.5" y1="103.3" x2="447.4" y2="100.8" stroke="#6a6a6a" stroke-width="3.2"/>
<line x1="449.5" y1="102.92" x2="447.4" y2="100.42" stroke="#b8b8b8" stroke-width="1.22"/>
<line x1="447.4" y1="100.8" x2="445.3" y2="98.3" stroke="#a8a8a8" stroke-width="3.2"/>
<line x1="447.4" y1="100.42" x2="445.3" y2="97.92" stroke="#f2f2f2" stroke-width="1.22"/>
<line x1="449.5" y1="103.3" x2="447.85" y2="107.65" stroke="#6a6a6a" stroke-width="3.2"/>
<line x1="449.5" y1="102.92" x2="447.85" y2="107.27" stroke="#b8b8b8" stroke-width="1.22"/>
<line x1="447.85" y1="107.65" x2="446.2" y2="112" stroke="#a8a8a8" stroke-width="3.2"/>
<line x1="447.85" y1="107.27" x2="446.2" y2="111.62" stroke="#f2f2f2" stroke-width="1.22"/>
<line x1="449.5" y1="103.3" x2="448.9" y2="101.55" stroke="#6a6a6a" stroke-width="3.2"/>
<line x1="449.5" y1="102.92" x2="448.9" y2="101.17" stroke="#b8b8b8" stroke-width="1.22"/>
<line x1="448.9" y1="101.55" x2="448.3" y2="99.8" stroke="#a8a8a8" stroke-width="3.2"/>
<line x1="448.9" y1="101.17" x2="448.3" y2="99.42" stroke="#f2f2f2" stroke-width="1.22"/>
<line x1="462" y1="102.5" x2="462.4" y2="104.45" stroke="#6a6a6a" stroke-width="3.2"/>
<line x1="462" y1="102.12" x2="462.4" y2="104.07" stroke="#b8b8b8" stroke-width="1.22"/>
<line x1="462.4" y1="104.45" x2="462.8" y2="106.4" stroke="#a8a8a8" stroke-width="3.2"/>
<line x1="462.4" y1="104.07" x2="462.8" y2="106.02" stroke="#f2f2f2" stroke-width="1.22"/>
<line x1="455" y1="71.8" x2="457.3" y2="74.9" stroke="#c00000" stroke-width="3.2"/>
<line x1="455" y1="71.42" x2="457.3" y2="74.52" stroke="#ff5a5a" stroke-width="1.22"/>
<line x1="457.3" y1="74.9" x2="459.6" y2="78" stroke="#a8a8a8" stroke-width="3.2"/>
<line x1="457.3" y1="74.52" x2="459.6" y2="77.62" stroke="#f2f2f2" stroke-width="1.22"/>
<line x1="455" y1="71.8" x2="449.15" y2="73.35" stroke="#c00000" stroke-width="3.2"/>
<line x1="455" y1="71.42" x2="449.15" y2="72.97" stroke="#ff5a5a" stroke-width="1.22"/>
<line x1="449.15" y1="73.35" x2="443.3" y2="74.9" stroke="#6a6a6a" stroke-width="3.2"/>
<line x1="449.15" y1="72.97" x2="443.3" y2="74.52" stroke="#b8b8b8" stroke-width="1.22"/>
<line x1="443.3" y1="74.9" x2="442.15" y2="78" stroke="#6a6a6a" stroke-width="3.2"/>
<line x1="443.3" y1="74.52" x2="442.15" y2="77.62" stroke="#b8b8b8" stroke-width="1.22"/>
<line x1="442.15" y1="78" x2="441" y2="81.1" stroke="#a8a8a8" stroke-width="3.2"/>
<line x1="442.15" y1="77.62" x2="441" y2="80.72" stroke="#f2f2f2" stroke-width="1.22"/>
<line x1="443.3" y1="74.9" x2="438.65" y2="70.2" stroke="#6a6a6a" stroke-width="3.2"/>
<line x1="443.3" y1="74.52" x2="438.65" y2="69.82" stroke="#b8b8b8" stroke-width="1.22"/>
<line x1="438.65" y1="70.2" x2="434" y2="65.5" stroke="#6a6a6a" stroke-width="3.2"/>
<line x1="438.65" y1="69.82" x2="434" y2="65.12" stroke="#b8b8b8" stroke-width="1.22"/>
<line x1="434" y1="65.5" x2="434.75" y2="62.4" stroke="#6a6a6a" stroke-width="3.2"/>
<line x1="434" y1="65.12" x2="434.75" y2="62.02" stroke="#b8b8b8" stroke-width="1.22"/>
<line x1="434.75" y1="62.4" x2="435.5" y2="59.3" stroke="#a8a8a8" stroke-width="3.2"/>
<line x1="434.75" y1="62.02" x2="435.5" y2="58.92" stroke="#f2f2f2" stroke-width="1.22"/>
<line x1="434" y1="65.5" x2="429.7" y2="67.1" stroke="#6a6a6a" stroke-width="3.2"/>
<line x1="434" y1="65.12" x2="429.7" y2="66.72" stroke="#b8b8b8" stroke-width="1.22"/>
<line x1="429.7" y1="67.1" x2="425.4" y2="68.7" stroke="#a8a8a8" stroke-width="3.2"/>
<line x1="429.7" y1="66.72" x2="425.4" y2="68.32" stroke="#f2f2f2" stroke-width="1.22"/>
<line x1="434" y1="65.5" x2="434.65" y2="63.95" stroke="#6a6a6a" stroke-width="3.2"/>
<line x1="434" y1="65.12" x2="434.65" y2="63.57" stroke="#b8b8b8" stroke-width="1.22"/>
<line x1="434.65" y1="63.95" x2="435.3" y2="62.4" stroke="#a8a8a8" stroke-width="3.2"/>
<line x1="434.65" y1="63.57" x2="435.3" y2="62.02" stroke="#f2f2f2" stroke-width="1.22"/>
<circle cx="463.8" cy="50.6" r="3.36" fill="url(#gO)"/>
<circle cx="456.3" cy="41.4" r="2.52" fill="url(#gC)"/>
<circle cx="450.1" cy="41.4" r="3.15" fill="url(#gH)"/>
<circle cx="463.3" cy="29.8" r="2.52" fill="url(#gC)"/>
<circle cx="456.3" cy="22.8" r="3.15" fill="url(#gH)"/>
<circle cx="468.8" cy="29.8" r="3.15" fill="url(#gH)"/>
<circle cx="461" cy="25.5" r="3.15" fill="url(#gH)"/>
<circle cx="459.6" cy="57" r="3.15" fill="url(#gH)"/>
<circle cx="486.5" cy="49.2" r="3.36" fill="url(#gO)"/>
<circle cx="478.9" cy="50.4" r="3.15" fill="url(#gH)"/>
<circle cx="488.5" cy="37.5" r="2.52" fill="url(#gC)"/>
<circle cx="484.7" cy="32.9" r="3.15" fill="url(#gH)"/>
<circle cx="501.8" cy="34.4" r="2.52" fill="url(#gC)"/>
<circle cx="503.3" cy="25.9" r="3.15" fill="url(#gH)"/>
<circle cx="505.6" cy="38.3" r="3.15" fill="url(#gH)"/>
<circle cx="500.9" cy="69.4" r="3.36" fill="url(#gO)"/>
<circle cx="496.2" cy="62.4" r="3.15" fill="url(#gH)"/>
<circle cx="511.8" cy="67.9" r="2.52" fill="url(#gC)"/>
<circle cx="514.9" cy="61.7" r="3.15" fill="url(#gH)"/>
<circle cx="520.3" cy="78" r="2.52" fill="url(#gC)"/>
<circle cx="528.9" cy="76.4" r="3.15" fill="url(#gH)"/>
<circle cx="517.2" cy="82.6" r="3.15" fill="url(#gH)"/>
<circle cx="487.1" cy="89.6" r="3.36" fill="url(#gO)"/>
<circle cx="491.8" cy="82.4" r="3.15" fill="url(#gH)"/>
<circle cx="494.9" cy="98.3" r="2.52" fill="url(#gC)"/>
<circle cx="501.1" cy="98.3" r="3.15" fill="url(#gH)"/>
<circle cx="488.7" cy="110.2" r="2.52" fill="url(#gC)"/>
<circle cx="483.2" cy="110.2" r="3.15" fill="url(#gH)"/>
<circle cx="494.9" cy="117.2" r="3.15" fill="url(#gH)"/>
<circle cx="466.6" cy="90.9" r="3.36" fill="url(#gO)"/>
<circle cx="474.5" cy="91.8" r="3.15" fill="url(#gH)"/>
<circle cx="462" cy="102.5" r="2.52" fill="url(#gC)"/>
<circle cx="465.9" cy="108" r="3.15" fill="url(#gH)"/>
<circle cx="449.5" cy="103.3" r="2.52" fill="url(#gC)"/>
<circle cx="448.3" cy="99.8" r="3.15" fill="url(#gH)"/>
<circle cx="445.3" cy="98.3" r="3.15" fill="url(#gH)"/>
<circle cx="446.2" cy="112" r="3.15" fill="url(#gH)"/>
<circle cx="462.8" cy="106.4" r="3.15" fill="url(#gH)"/>
<circle cx="455" cy="71.8" r="3.36" fill="url(#gO)"/>
<circle cx="459.6" cy="78" r="3.15" fill="url(#gH)"/>
<circle cx="443.3" cy="74.9" r="2.52" fill="url(#gC)"/>
<circle cx="441" cy="81.1" r="3.15" fill="url(#gH)"/>
<circle cx="434" cy="65.5" r="2.52" fill="url(#gC)"/>
<circle cx="435.3" cy="62.4" r="3.15" fill="url(#gH)"/>
<circle cx="435.5" cy="59.3" r="3.15" fill="url(#gH)"/>
<circle cx="425.4" cy="68.7" r="3.15" fill="url(#gH)"/>
<text x="216.6" y="195.3" class="tt">DMSO-EOH</text>
<text x="551.8" y="195.6" class="tt">EOH-EOH</text>
<text x="1" y="16.6" class="pl">(a)</text>
<text x="332.4" y="16.8" class="pl">(b)</text>
<text transform="translate(15.4,135.9) rotate(-90)" style="font-size:14px;font-weight:bold">C</text>
<text transform="translate(20.3,125.2) rotate(-90)" style="font-size:8.3px;font-weight:bold">HB</text>
<text transform="translate(15.4,108.9) rotate(-90)" style="font-size:12px;font-weight:bold">[t]</text>
<text transform="translate(343.4,142.9) rotate(-90)" style="font-size:16px;font-weight:bold">C</text>
<text transform="translate(349,130) rotate(-90)" style="font-size:9px;font-weight:bold">HB</text>
<text transform="translate(343.7,111.4) rotate(-90)" style="font-size:14px;font-weight:bold">[t]</text>
</svg>
</body></html>
